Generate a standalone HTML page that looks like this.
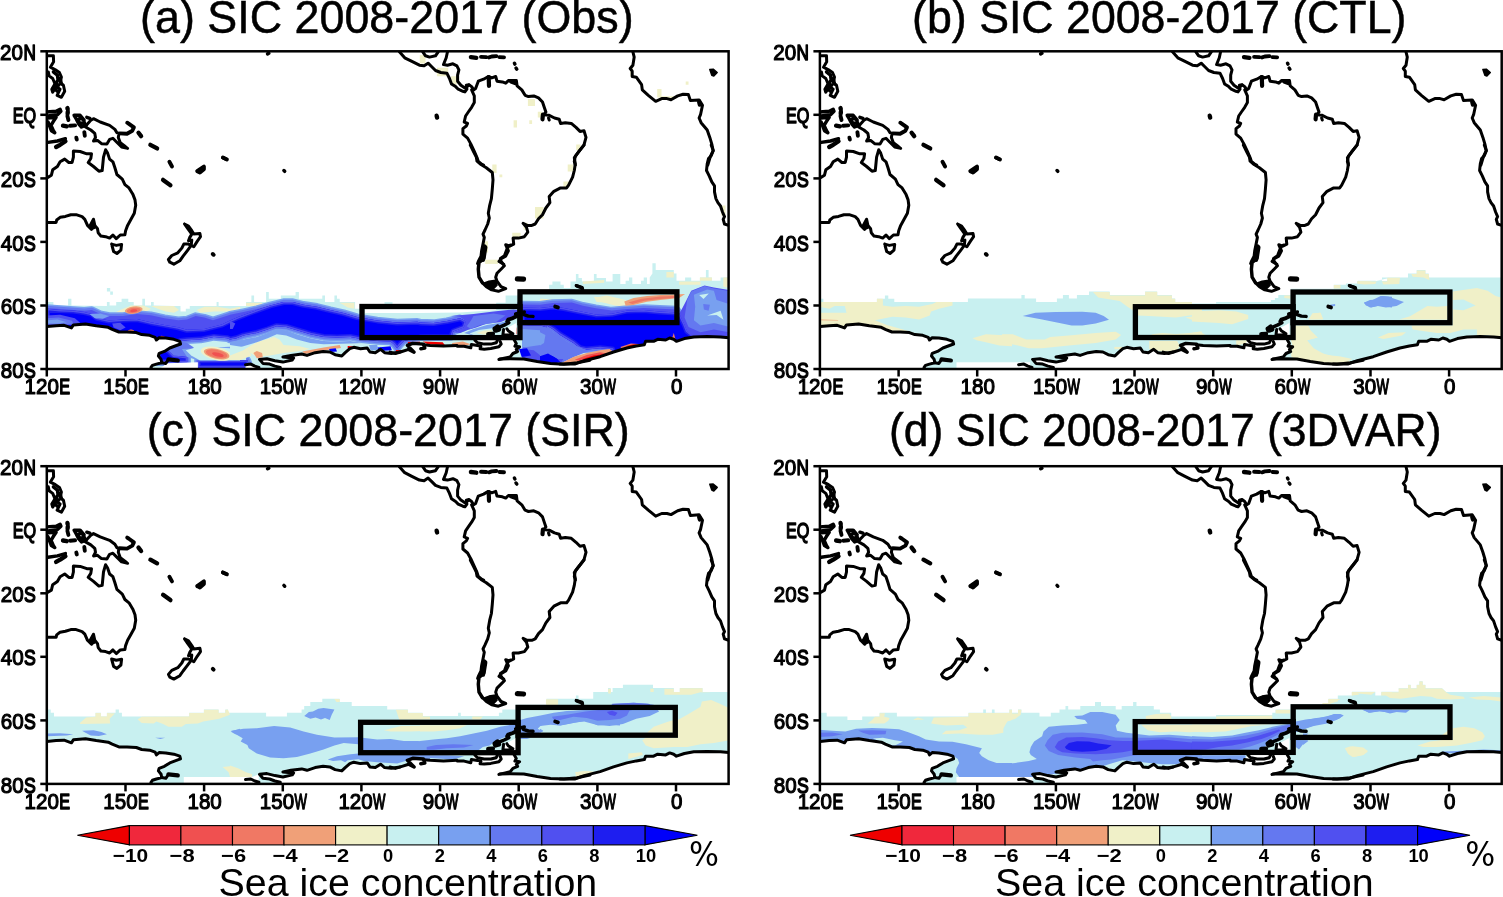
<!DOCTYPE html><html><head><meta charset="utf-8"><title>SIC 2008-2017</title><style>html,body{margin:0;padding:0;background:#fff}svg{display:block}.tk{font-size:22.9px;stroke:#000;stroke-width:1.15px;stroke-linejoin:round}.cb{font-size:18.8px;font-weight:bold}</style></head><body><svg width="1503" height="897" viewBox="0 0 1503 897" font-family="'Liberation Sans', sans-serif">
<defs>
<clipPath id="clip"><rect x="46.8" y="51.3" width="681.8" height="317.7"/></clipPath>
<g id="coast" fill="none" stroke="#000" stroke-width="3" stroke-linejoin="round" stroke-linecap="round">
<polyline points="267.6,53.9 268.8,53.3" stroke-width="3.45"/>
<polyline points="283.9,170.5 284.7,171.3" stroke-width="3.45"/>
<polyline points="222.7,157.7 226.5,159.3" stroke-width="3.45"/>
<polyline points="48.3,55.8 53.4,55.8 53.6,61.8 50.4,67.2 55.4,69.8 59.4,72.5 61.4,77.2 60.1,82.6 63.4,85.2 64.7,91.3 61.4,97.3 57.1,95.3 60.1,89.2 56.3,86.6 52.7,92.2 51.8,89.2 55.0,83.9 52.7,78.5 49.1,75.9 48.3,71.9" stroke-width="3.00"/>
<polyline points="53.4,71.9 57.4,75.2 58.1,79.9 55.4,83.9 58.7,85.2" stroke-width="3.45"/>
<polyline points="60.1,78.5 61.4,83.9" stroke-width="3.45"/>
<polyline points="53.4,87.9 57.4,91.3" stroke-width="3.45"/>
<polyline points="46.7,112.0 56.1,111.3 60.1,109.3 60.9,111.3 57.4,114.7 48.0,116.0" stroke-width="3.45"/>
<polyline points="48.0,118.0 56.1,117.3 53.4,121.4 51.0,125.4 53.4,130.7 54.7,132.7 51.4,130.7 49.4,125.4 48.0,122.0" stroke-width="3.45"/>
<polyline points="67.4,108.0 67.7,109.3" stroke-width="4.35"/>
<polyline points="67.8,111.7 67.6,113.6" stroke-width="4.35"/>
<polyline points="67.4,116.0 68.4,120.0" stroke-width="3.90"/>
<polyline points="63.0,125.6 66.8,126.3" stroke-width="4.35"/>
<polyline points="70.1,125.8 75.1,125.4" stroke-width="3.90"/>
<polyline points="74.1,115.3 80.1,115.3 84.1,120.0 80.1,118.0 78.1,120.0 80.1,124.0 84.1,122.0 85.5,125.4 81.5,127.0 78.8,124.0 76.1,118.7 74.1,115.3" stroke-width="3.45"/>
<polyline points="86.8,117.3 89.8,118.3" stroke-width="3.45"/>
<polyline points="85.5,127.0 86.8,124.7 90.8,120.3 93.5,118.7 100.2,122.0 109.6,125.4 114.9,129.4 116.9,132.7 118.9,133.7 118.3,137.4 120.3,142.8 125.6,146.8 127.6,148.4 121.6,147.0 116.3,141.7 112.9,138.3 109.6,139.4 106.9,144.1 101.5,143.7 97.5,140.4 93.5,141.0 95.5,137.4 94.8,133.4 90.8,130.0 85.5,127.0" stroke-width="3.00"/>
<polyline points="119.6,133.4 127.0,133.7 132.3,130.7 133.9,127.4 128.6,123.6 127.2,122.7" stroke-width="3.90"/>
<polyline points="138.5,132.7 141.1,136.1" stroke-width="4.35"/>
<polyline points="150.4,144.8 157.1,148.4" stroke-width="4.35"/>
<polyline points="48.0,142.4 57.4,141.0 65.4,138.7" stroke-width="3.45"/>
<polyline points="56.1,147.0 60.1,144.8 65.4,141.2" stroke-width="4.35"/>
<polyline points="84.3,132.1 84.8,135.8" stroke-width="3.90"/>
<polyline points="76.3,137.7 76.8,139.5" stroke-width="3.90"/>
<polyline points="47.0,177.9 51.4,175.2 52.7,169.8 57.4,166.5 60.1,161.8 64.7,159.1 68.8,162.5 72.1,162.5 73.4,157.1 73.4,151.1 80.1,151.5 86.8,153.8 91.5,153.8 90.8,158.5 88.2,162.5 93.5,166.5 98.9,171.2 102.2,170.5 103.5,157.1 105.6,149.8 107.6,153.1 109.6,159.1 112.9,161.8 114.9,167.8 116.9,174.5 122.3,179.2 124.9,184.6 129.0,187.9 133.0,194.6 135.0,199.9 135.7,205.3 134.3,213.3 131.0,219.3 127.6,225.4 125.6,230.7 124.9,234.7 120.3,235.0 116.3,238.7 112.9,235.0 109.6,238.1 105.6,236.7 100.9,236.1 98.2,232.7 97.5,228.7 94.8,225.4 93.5,219.3 90.2,225.4 91.5,229.4 87.5,225.4 84.8,219.3 82.1,216.7 76.1,214.7 70.8,214.7 65.4,216.4 60.1,217.3 56.7,220.0 56.1,222.4 47.0,222.4"/>
<polygon points="93.5,219.3 90.2,225.4 91.5,229.6 94.8,228.0 94.2,224.0" fill="#000" stroke="#000" stroke-width="1.5"/>
<polyline points="111.6,244.1 116.3,245.4 121.6,244.4 120.9,250.1 116.9,253.5 113.6,251.5 111.6,244.1"/>
<polyline points="184.5,224.0 188.5,226.0 191.8,230.7 193.8,234.1 199.9,233.4 200.5,236.7 197.2,241.4 193.8,246.8 191.2,245.4 191.8,240.1 188.5,240.8 189.8,237.4 191.8,234.1 187.8,228.7 184.5,224.0"/>
<polyline points="191.2,245.4 187.2,250.8 183.1,256.1 179.8,260.8 173.8,264.2 169.8,262.2 168.4,259.5 171.8,255.5 177.8,252.8 181.8,248.1 183.8,244.1 188.5,244.1 191.2,245.4"/>
<polyline points="212.8,254.0 213.6,254.8" stroke-width="3.90"/>
<polyline points="163.1,179.9 170.4,185.2" stroke-width="4.35"/>
<polyline points="169.4,161.8 172.0,166.5" stroke-width="3.90"/>
<polyline points="197.2,171.2 203.9,166.5 203.9,169.2 199.9,172.5 197.2,171.2" stroke-width="3.90"/>
<polyline points="223.0,157.5 226.9,159.4" stroke-width="3.90"/>
<polyline points="399.4,51.8 404.7,57.8 411.4,61.2 419.4,65.2 424.1,65.8 428.1,63.2 431.5,66.5 435.5,70.5 440.8,72.5 446.9,73.2 449.5,78.5 451.5,83.9 455.6,86.6 458.2,89.2 462.9,91.3 464.9,91.9 466.9,89.2 466.3,85.2 468.9,84.6 471.6,86.6 473.6,89.9 475.6,88.6 478.3,81.2 483.6,79.2 488.3,76.5 491.7,77.9 495.7,76.5 497.0,81.2 502.4,81.9 505.7,83.2 508.4,80.6 516.4,80.6 517.1,85.9 521.8,89.9 525.1,95.3 528.5,96.6 533.8,95.9 538.5,97.9 542.5,102.0 544.5,108.0 545.9,112.0 543.8,114.7 549.2,115.3 554.5,118.0 559.2,119.3 560.6,123.4 565.3,122.7 571.3,123.4 576.0,127.4 580.0,131.4 584.0,130.7 586.0,137.4 584.0,144.8 580.0,150.1 575.3,156.1 574.3,161.5 575.3,165.1"/>
<polyline points="447.5,51.8 446.2,57.8 443.5,64.5 447.5,65.2 452.9,63.8 456.9,65.8 458.9,69.8 457.6,75.2 457.6,81.2 460.9,85.2 464.9,87.9 468.9,85.2"/>
<polyline points="422.8,51.8 425.5,55.8 429.5,57.1 435.5,55.8 438.2,51.8"/>
<polyline points="471.6,89.9 474.3,95.9 474.3,102.6 471.6,107.3 468.3,112.0 465.6,116.0 464.2,122.0 467.6,123.4 466.3,126.0 462.9,128.7 462.9,134.1 467.6,138.1 470.9,144.1 474.3,151.5 477.0,157.5 478.3,161.5 481.6,164.2 483.6,165.1"/>
<polyline points="488.7,77.2 489.0,85.9" stroke-width="4.2"/>
<polyline points="511.1,81.5 515.8,83.2" stroke-width="4.2"/>
<polyline points="542.9,114.7 542.5,119.3" stroke-width="4.2"/>
<polyline points="548.5,118.0 549.2,120.0"/>
<polyline points="470.9,57.1 476.3,57.8" stroke-width="4.35"/>
<polyline points="481.0,56.9 486.3,57.1" stroke-width="3.90"/>
<polyline points="489.0,57.4 491.7,56.5 496.4,56.1" stroke-width="3.90"/>
<polyline points="499.4,57.1 504.0,57.4" stroke-width="3.90"/>
<polyline points="514.4,63.2 514.9,64.1" stroke-width="3.45"/>
<polyline points="516.0,68.1 516.8,69.2" stroke-width="3.45"/>
<polyline points="436.6,115.7 437.1,117.6" stroke-width="4.35"/>
<polyline points="470.3,145.1 473.6,151.8 476.3,157.1 477.0,161.2 481.0,164.5 486.3,167.8 492.3,172.5 493.0,179.9 492.3,189.2 491.4,198.6 489.7,205.3 488.3,213.3 489.3,218.0 487.7,224.0 485.0,230.0 483.0,234.1 484.3,237.4 483.0,244.1 481.6,250.8 481.0,256.1 478.3,261.5 477.6,263.5"/>
<polyline points="485.3,247.4 483.6,258.1" stroke-width="4.2"/>
<polyline points="584.0,145.1 578.6,151.8 574.3,157.8 575.3,163.8 574.3,170.5 572.6,177.2 568.6,185.2 566.6,187.9 560.6,187.9 553.9,191.3 549.2,196.6 549.9,202.6 545.9,208.0 542.5,214.7 538.5,218.7 535.2,224.0 531.8,225.4 527.1,225.4 523.1,223.4 526.5,227.4 527.8,232.1 524.4,236.7 518.4,238.1 513.1,238.1 513.7,244.1 509.7,246.1 505.7,244.8 508.4,250.8 505.7,256.1 501.0,258.8 499.0,261.5 503.7,264.2"/>
<polyline points="484.3,246.4 483.0,259.8" stroke-width="4.2"/>
<polyline points="482.3,259.8 479.0,262.5 478.3,269.2 479.0,277.2 482.3,282.6" stroke-width="3.45"/>
<polyline points="482.3,282.6 486.3,286.6 491.7,289.9 498.4,291.3 505.7,288.6 501.0,286.6 497.0,281.2 495.7,277.2 497.0,273.2 501.0,269.2 504.4,265.8 501.0,261.2 500.4,258.5 504.4,255.8 506.4,250.5 508.4,246.4 510.4,245.1"/>
<polygon points="483.6,283.2 489.0,281.2 495.7,280.2 497.0,285.2 493.0,289.2 487.7,287.2" fill="#000" stroke="#000" stroke-width="1.5"/>
<polyline points="517.4,278.8 523.5,279.1" stroke-width="5.25"/>
<polyline points="576.6,285.9 582.0,287.9 582.4,289.5" stroke-width="3.45"/>
<polyline points="555.2,306.6 557.9,307.4" stroke-width="3.90"/>
<polyline points="390.0,352.1 395.4,353.5 402.0,351.5 408.7,349.4"/>
<polyline points="408.7,349.4 414.1,352.1 410.1,348.1 407.4,345.4 412.7,343.4 423.4,344.1 424.8,348.1 420.8,348.8" stroke-width="3.45"/>
<polyline points="423.4,344.8 430.1,345.4 443.5,346.1 456.9,345.4"/>
<polyline points="499.7,359.1 510.4,358.8 523.8,359.1 537.2,361.5 550.5,363.5 563.9,364.2 577.3,362.8 590.0,360.2"/>
<polyline points="632.9,51.8 634.2,57.1 632.9,65.2 630.2,68.5 632.2,71.2 632.2,76.5 636.3,77.2 641.6,84.6 642.3,89.9 648.3,95.3 655.7,101.3 661.7,98.6 667.0,98.6 671.0,99.7 677.7,95.9 683.1,94.3 688.4,94.6 690.4,100.6 699.1,99.9 702.5,105.3 700.5,114.7 699.1,118.0 701.1,122.7 707.2,130.0 709.8,137.4 711.8,144.1 713.2,150.8 710.5,156.1 707.8,165.1"/>
<polygon points="709.8,69.4 713.2,69.2 717.2,72.5 713.8,76.1 711.8,75.2" fill="#000" stroke="#000" stroke-width="1.5"/>
<polyline points="699.1,102.0 699.8,104.6" stroke-width="4.2"/>
<polyline points="711.2,145.1 713.2,150.5 711.2,155.8 708.5,158.5 707.2,163.8 706.5,170.5 709.2,175.9 711.8,181.9 714.5,185.9 714.5,191.9 715.9,198.6 717.9,202.6 720.5,206.0 722.5,212.0 724.5,216.7 723.2,219.3 724.5,224.0 728.6,225.4"/>
<polyline points="47.0,326.6 56.1,325.7 64.1,325.3 71.4,327.9 73.4,324.9 85.5,323.9 96.2,325.7 108.2,327.3 112.2,329.3 118.9,332.0 127.0,332.0 136.3,332.6 141.7,334.6 149.7,335.3 155.1,337.3 156.4,340.0 159.1,337.7 165.8,338.0 173.8,339.3 179.8,341.3 180.5,344.0 175.1,346.0 169.8,348.0 164.4,351.4 159.1,353.4 158.4,356.0 161.1,359.4 161.7,362.7 156.4,364.1 152.4,365.4 151.0,367.4"/>
<polyline points="168.4,359.4 177.8,360.5" stroke-width="4.2"/>
<polyline points="168.4,359.6 165.8,363.4 161.7,362.7"/>
<polyline points="245.5,364.7 250.8,364.1 254.8,366.1 258.9,367.4"/>
<polyline points="280.3,367.4 274.9,366.1 269.6,364.1 262.9,363.4 259.5,359.4 266.9,358.7 274.9,360.7 282.9,362.1 292.3,360.0 293.6,358.0 282.9,357.0 291.0,355.4 301.7,354.0 307.0,355.4 315.1,352.7 323.1,351.4 329.8,352.0 335.1,354.7 341.8,356.0 345.2,352.7 349.8,348.7 353.8,347.3 360.5,348.7 367.2,348.0 369.9,352.0 375.3,352.7 380.6,349.3 384.6,352.7 391.3,353.4 400.0,352.0"/>
<polyline points="560.0,364.1 574.7,364.1 584.1,360.7 600.1,356.7 613.5,352.0 626.9,348.0 636.3,346.0 644.3,344.7 645.6,341.3 653.6,341.3 657.7,339.3 665.7,340.0 669.7,338.0 673.7,339.3 676.4,341.3 684.4,338.6 693.8,336.9 707.2,336.6 720.5,336.9 728.8,337.7"/>
<polyline points="576.1,285.5 582.1,287.4 582.7,289.1"/>
<polyline points="457.4,346.2 464.1,346.2 470.8,347.8 471.4,344.5 477.5,345.5 480.8,346.2"/>
<polyline points="514.3,340.1 516.3,343.5 514.9,346.2 519.6,346.8 516.3,349.5 517.6,351.5 512.9,353.5 510.2,356.9 504.2,358.2 498.9,359.5" stroke-width="3.00"/>
<polyline points="474.8,340.1 477.5,342.8 484.2,344.1 490.8,344.1 496.2,342.8 497.5,340.1" stroke-width="3.00"/>
<polyline points="480.8,346.2 480.1,348.8 484.2,349.2 490.8,348.5 498.9,346.8 501.2,344.1 500.2,341.5" stroke-width="3.00"/>
<polyline points="515.6,314.0 524.3,312.0" stroke-width="3.45"/>
<polyline points="523.3,314.4 528.3,316.1 533.0,316.4" stroke-width="3.45"/>
<polyline points="517.6,315.7 512.9,318.1 508.2,319.7 507.2,321.4" stroke-width="3.90"/>
<polyline points="508.9,322.7 504.2,325.1 500.2,326.8" stroke-width="3.45"/>
<polyline points="494.9,328.8 497.5,326.8 498.9,329.4 495.5,330.4 494.9,328.8" stroke-width="4.80"/>
<polyline points="488.2,334.1 492.9,333.8" stroke-width="4.35"/>
<polyline points="503.6,329.4 502.9,334.8 508.2,335.1 512.9,333.8 508.2,330.8 506.9,328.8"/>
</g>
<g id="mask"><polygon points="43.8,326.6 47.0,326.6 56.1,325.7 64.1,325.3 71.4,327.9 73.4,324.9 85.5,323.9 96.2,325.7 108.2,327.3 112.2,329.3 118.9,332.0 127.0,332.0 136.3,332.6 141.7,334.6 149.7,335.3 155.1,337.3 156.4,340.0 159.1,337.7 165.8,338.0 173.8,339.3 179.8,341.3 180.5,344.0 175.1,346.0 169.8,348.0 164.4,351.4 159.1,353.4 158.4,356.0 161.1,359.4 161.7,362.7 156.4,364.1 152.4,365.4 151.0,367.4 151.0,372.0 43.8,372.0" fill="#fff"/>
<polygon points="280.3,367.4 274.9,366.1 269.6,364.1 262.9,363.4 259.5,359.4 266.9,358.7 274.9,360.7 282.9,362.1 292.3,360.0 293.6,358.0 282.9,357.0 291.0,355.4 301.7,354.0 307.0,355.4 315.1,352.7 323.1,351.4 329.8,352.0 335.1,354.7 341.8,356.0 345.2,352.7 349.8,348.7 353.8,347.3 360.5,348.7 367.2,348.0 369.9,352.0 375.3,352.7 380.6,349.3 384.6,352.7 391.3,353.4 400.0,352.0 390.0,352.1 395.4,353.5 402.0,351.5 408.7,349.4 414.1,352.1 410.1,348.1 407.4,345.4 412.7,343.4 423.4,344.1 424.8,348.1 420.8,348.8 423.4,344.8 430.1,345.4 443.5,346.1 456.9,345.4 457.4,346.2 464.1,346.2 470.8,347.8 471.4,344.5 474.8,340.1 497.5,340.1 503.6,335.5 504.2,329.4 516.3,323.1 516.3,335.5 514.3,340.1 516.3,343.5 514.9,346.2 519.6,346.8 516.3,349.5 517.6,351.5 512.9,353.5 510.2,356.9 504.2,358.2 498.9,359.5 499.7,359.1 510.4,358.8 523.8,359.1 537.2,361.5 550.5,363.5 563.9,364.2 577.3,362.8 590.0,360.2 560.0,364.1 574.7,364.1 584.1,360.7 600.1,356.7 613.5,352.0 626.9,348.0 636.3,346.0 644.3,344.7 645.6,341.3 653.6,341.3 657.7,339.3 665.7,340.0 669.7,338.0 673.7,339.3 676.4,341.3 684.4,338.6 693.8,336.9 707.2,336.6 720.5,336.9 728.8,337.7 731.6,337.7 731.6,372.0 280.3,372.0" fill="#fff"/>
<polygon points="245.5,364.7 250.8,364.1 254.8,366.1 258.9,367.4 258.9,372.0 245.5,372.0" fill="#fff"/></g>
</defs>
<rect width="1503" height="897" fill="#fff"/>
<g transform="translate(0,0)"><g clip-path="url(#clip)">
<polygon points="47.0,302.1 53.4,302.1 53.4,305.4 68.1,305.4 68.1,298.8 71.4,298.8 71.4,305.4 106.9,306.1 106.9,302.1 109.6,302.1 109.6,305.4 116.2,305.4 116.2,302.1 121.6,302.1 121.6,298.8 128.3,298.8 128.3,302.1 133.7,302.1 133.7,305.4 142.3,305.4 142.3,298.8 145.0,298.8 145.0,305.4 151.0,305.4 151.0,302.1 153.7,302.1 153.7,305.4 173.8,306.1 180.5,306.1 180.5,311.5 185.8,311.5 185.8,308.8 189.8,308.8 189.8,306.1 216.6,306.1 216.6,302.1 218.6,302.1 218.6,306.1 230.0,306.1 230.0,306.1 246.1,306.1 246.1,302.1 251.4,302.1 251.4,295.4 254.1,295.4 254.1,302.1 266.1,302.1 266.1,292.1 268.8,292.1 268.8,298.8 280.8,298.8 280.8,295.4 295.6,295.4 295.6,292.1 298.9,292.1 298.9,298.8 322.3,298.8 322.3,295.4 325.0,295.4 325.0,302.1 334.4,302.1 334.4,295.4 337.0,295.4 337.0,298.8 339.7,298.8 339.7,302.1 355.1,302.1 355.1,308.8 365.1,308.8 365.1,313.1 420.0,313.1 420.0,313.1 460.1,312.5 496.2,310.1 496.2,302.8 505.6,302.8 505.6,295.4 517.7,295.4 517.7,292.1 549.1,292.1 549.1,284.7 552.4,284.7 552.4,281.4 560.5,281.4 560.5,284.7 563.8,284.7 563.8,288.1 570.5,288.1 570.5,281.4 575.9,281.4 575.9,274.0 578.5,274.0 578.5,278.0 581.9,278.0 581.9,281.4 593.9,281.4 593.9,274.0 596.6,274.0 596.6,278.0 606.0,278.0 606.0,281.4 612.6,281.4 612.6,274.0 620.0,274.0 620.3,273.4 620.3,284.1 625.6,284.1 625.6,280.7 629.0,280.7 629.0,277.4 632.3,277.4 632.3,284.1 641.0,284.1 641.0,280.7 643.7,280.7 643.7,277.4 647.0,277.4 647.0,284.1 649.7,284.1 649.7,277.4 652.4,273.4 652.4,263.3 655.7,263.3 655.7,270.0 673.8,270.0 673.8,273.4 676.5,273.4 676.5,280.7 685.1,280.7 685.1,277.4 691.2,277.4 691.2,280.7 699.9,280.7 699.9,277.4 705.9,277.4 705.9,270.0 708.6,270.0 708.6,277.4 711.9,277.4 711.9,280.7 720.6,280.7 720.6,277.4 729.3,277.4 729.3,369.7 47.0,371.7" fill="#C8F0F0"/>
<polygon points="106.9,288.1 110.2,288.1 110.2,291.4 112.9,291.4 112.9,294.8 110.2,294.8 110.2,291.4 106.9,291.4" fill="#C8F0F0"/>
<polygon points="384.5,302.1 392.5,302.1 392.5,305.1 384.5,305.1" fill="#C8F0F0"/>
<polygon points="112.2,314.1 120.3,310.1 131.0,305.4 143.0,305.4 151.0,308.8 144.3,312.8 133.7,314.1 120.3,316.1" fill="#F0F0C8"/>
<polygon points="151.0,306.1 173.8,306.1 179.1,310.1 173.8,312.8 165.8,311.5 157.7,308.8" fill="#F0F0C8"/>
<polygon points="196.5,310.1 204.6,306.8 216.6,306.8 230.0,308.8 240.0,306.8 240.0,310.1 227.3,311.5 213.9,311.5 200.5,312.8" fill="#F0F0C8"/>
<polygon points="247.4,347.6 256.8,342.2 274.1,336.9 279.5,339.6 283.5,344.9 299.6,346.2 310.3,348.9 296.9,351.6 283.5,352.9 270.1,355.6 256.8,357.0 250.1,352.9" fill="#F0F0C8"/>
<polygon points="230.0,355.6 240.7,357.0 238.0,359.9 230.0,359.9" fill="#F0F0C8"/>
<polygon points="246.1,302.8 262.1,302.8 262.1,305.9 246.1,305.9" fill="#F0F0C8"/>
<polygon points="339.7,302.8 354.4,302.8 354.4,308.8 347.7,307.5" fill="#F0F0C8"/>
<polygon points="541.7,298.8 553.8,299.4 555.1,302.8 544.4,302.8" fill="#F0F0C8"/>
<polygon points="593.9,296.8 620.0,298.8 620.0,303.4 596.6,302.1" fill="#F0F0C8"/>
<polygon points="666.4,272.0 673.8,272.0 673.8,277.4 666.4,277.4" fill="#F0F0C8"/>
<polygon points="679.1,281.4 700.5,281.4 700.5,284.8 679.1,284.8" fill="#F0F0C8"/>
<polygon points="699.9,277.4 711.9,277.4 711.9,280.7 699.9,280.7" fill="#F0F0C8"/>
<polygon points="723.3,277.4 729.3,277.4 729.3,288.1 723.3,286.8" fill="#F0F0C8"/>
<polygon points="540.0,298.8 553.4,299.5 553.4,301.7 540.0,301.5" fill="#F0F0C8"/>
<polygon points="596.2,297.5 606.9,295.4 620.3,298.8 625.6,300.1 628.3,306.8 614.9,305.5 604.2,302.8 596.2,300.1" fill="#F0F0C8"/>
<polygon points="582.8,281.4 604.2,280.1 604.2,282.7 582.8,284.1" fill="#F0F0C8"/>
<polygon points="47.0,308.1 60.1,309.1 73.4,309.9 84.2,310.8 91.9,310.1 100.2,314.1 109.2,315.9 123.1,315.9 136.9,314.1 150.8,315.2 164.6,318.2 178.3,320.3 187.0,319.4 195.7,316.1 204.3,317.6 213.0,320.3 221.7,317.6 230.2,314.8 230.0,314.8 243.4,312.1 256.8,309.1 270.1,305.4 283.5,302.1 292.9,302.1 303.6,304.8 317.0,306.8 330.3,310.1 343.7,313.1 357.1,317.1 377.2,320.4 397.2,322.4 417.3,321.8 420.0,322.4 433.4,323.1 446.8,321.1 460.1,318.2 466.1,321.5 464.1,327.5 453.4,331.5 451.4,336.9 420.0,337.6 403.9,340.9 399.9,344.9 397.2,348.3 393.9,344.2 390.5,341.6 377.2,340.9 363.8,339.6 350.4,336.9 337.0,337.6 323.6,336.9 310.3,334.2 296.9,330.2 286.2,326.9 276.8,326.2 267.5,329.5 256.8,332.9 243.4,335.6 236.7,338.2 230.0,339.6 227.3,338.2 213.9,336.9 207.2,338.2 200.5,339.6 187.2,340.2 180.5,340.9 180.5,347.6 120.3,342.2 47.0,331.5" fill="#78A0F0" stroke="#78A0F0" stroke-width="7.5" stroke-linejoin="round"/>
<polygon points="520.8,304.5 539.9,304.7 552.7,302.9 571.9,302.6 583.0,305.8 595.8,308.2 611.8,310.6 627.7,309.0 643.7,308.1 659.7,308.7 676.5,309.5 679.5,313.5 684.5,324.2 687.2,330.9 693.9,336.2 693.9,345.6 647.0,352.3 612.2,356.3 612.2,349.6 600.2,348.3 586.8,349.6 580.1,348.3 573.4,342.9 560.1,334.9 553.4,329.6 546.7,325.6 547.1,327.5 540.4,325.5 522.3,325.5" fill="#78A0F0" stroke="#78A0F0" stroke-width="7.5" stroke-linejoin="round"/>
<polygon points="197.9,360.3 240.0,360.3 247.4,360.3 250.1,367.7 230.0,367.7 197.9,367.7" fill="#78A0F0" stroke="#78A0F0" stroke-width="7.5" stroke-linejoin="round"/>
<polygon points="157.7,347.6 168.4,350.3 173.8,355.6 187.2,357.0 187.2,362.3 157.7,362.3" fill="#78A0F0" stroke="#78A0F0" stroke-width="7.5" stroke-linejoin="round"/>
<polygon points="47.0,308.1 60.1,309.1 73.4,309.9 84.2,310.8 91.9,310.1 100.2,314.1 109.2,315.9 123.1,315.9 136.9,314.1 150.8,315.2 164.6,318.2 178.3,320.3 187.0,319.4 195.7,316.1 204.3,317.6 213.0,320.3 221.7,317.6 230.2,314.8 230.0,314.8 243.4,312.1 256.8,309.1 270.1,305.4 283.5,302.1 292.9,302.1 303.6,304.8 317.0,306.8 330.3,310.1 343.7,313.1 357.1,317.1 377.2,320.4 397.2,322.4 417.3,321.8 420.0,322.4 433.4,323.1 446.8,321.1 460.1,318.2 466.1,321.5 464.1,327.5 453.4,331.5 451.4,336.9 420.0,337.6 403.9,340.9 399.9,344.9 397.2,348.3 393.9,344.2 390.5,341.6 377.2,340.9 363.8,339.6 350.4,336.9 337.0,337.6 323.6,336.9 310.3,334.2 296.9,330.2 286.2,326.9 276.8,326.2 267.5,329.5 256.8,332.9 243.4,335.6 236.7,338.2 230.0,339.6 227.3,338.2 213.9,336.9 207.2,338.2 200.5,339.6 187.2,340.2 180.5,340.9 180.5,347.6 120.3,342.2 47.0,331.5" fill="#6478F0" stroke="#6478F0" stroke-width="4.5" stroke-linejoin="round"/>
<polygon points="520.8,304.5 539.9,304.7 552.7,302.9 571.9,302.6 583.0,305.8 595.8,308.2 611.8,310.6 627.7,309.0 643.7,308.1 659.7,308.7 676.5,309.5 679.5,313.5 684.5,324.2 687.2,330.9 693.9,336.2 693.9,345.6 647.0,352.3 612.2,356.3 612.2,349.6 600.2,348.3 586.8,349.6 580.1,348.3 573.4,342.9 560.1,334.9 553.4,329.6 546.7,325.6 547.1,327.5 540.4,325.5 522.3,325.5" fill="#6478F0" stroke="#6478F0" stroke-width="4.5" stroke-linejoin="round"/>
<polygon points="197.9,360.3 240.0,360.3 247.4,360.3 250.1,367.7 230.0,367.7 197.9,367.7" fill="#6478F0" stroke="#6478F0" stroke-width="4.5" stroke-linejoin="round"/>
<polygon points="157.7,347.6 168.4,350.3 173.8,355.6 187.2,357.0 187.2,362.3 157.7,362.3" fill="#6478F0" stroke="#6478F0" stroke-width="4.5" stroke-linejoin="round"/>
<polygon points="47.0,308.1 60.1,309.1 73.4,309.9 84.2,310.8 91.9,310.1 100.2,314.1 109.2,315.9 123.1,315.9 136.9,314.1 150.8,315.2 164.6,318.2 178.3,320.3 187.0,319.4 195.7,316.1 204.3,317.6 213.0,320.3 221.7,317.6 230.2,314.8 230.0,314.8 243.4,312.1 256.8,309.1 270.1,305.4 283.5,302.1 292.9,302.1 303.6,304.8 317.0,306.8 330.3,310.1 343.7,313.1 357.1,317.1 377.2,320.4 397.2,322.4 417.3,321.8 420.0,322.4 433.4,323.1 446.8,321.1 460.1,318.2 466.1,321.5 464.1,327.5 453.4,331.5 451.4,336.9 420.0,337.6 403.9,340.9 399.9,344.9 397.2,348.3 393.9,344.2 390.5,341.6 377.2,340.9 363.8,339.6 350.4,336.9 337.0,337.6 323.6,336.9 310.3,334.2 296.9,330.2 286.2,326.9 276.8,326.2 267.5,329.5 256.8,332.9 243.4,335.6 236.7,338.2 230.0,339.6 227.3,338.2 213.9,336.9 207.2,338.2 200.5,339.6 187.2,340.2 180.5,340.9 180.5,347.6 120.3,342.2 47.0,331.5" fill="#5050F0"/>
<polygon points="520.8,304.5 539.9,304.7 552.7,302.9 571.9,302.6 583.0,305.8 595.8,308.2 611.8,310.6 627.7,309.0 643.7,308.1 659.7,308.7 676.5,309.5 679.5,313.5 684.5,324.2 687.2,330.9 693.9,336.2 693.9,345.6 647.0,352.3 612.2,356.3 612.2,349.6 600.2,348.3 586.8,349.6 580.1,348.3 573.4,342.9 560.1,334.9 553.4,329.6 546.7,325.6 547.1,327.5 540.4,325.5 522.3,325.5" fill="#5050F0"/>
<polygon points="197.9,360.3 240.0,360.3 247.4,360.3 250.1,367.7 230.0,367.7 197.9,367.7" fill="#5050F0"/>
<polygon points="157.7,347.6 168.4,350.3 173.8,355.6 187.2,357.0 187.2,362.3 157.7,362.3" fill="#5050F0"/>
<clipPath id="hc0"><polygon points="47.0,308.8 60.1,309.9 73.4,310.5 84.2,312.1 91.9,313.9 97.1,317.9 109.2,320.6 123.1,319.6 136.9,319.0 150.8,322.2 164.6,324.9 178.3,327.3 187.0,329.8 204.3,328.9 221.7,324.6 230.0,320.6 238.0,317.1 247.4,313.5 256.8,310.1 270.1,305.4 283.5,302.1 292.9,302.1 303.6,304.8 317.0,306.8 330.3,310.1 343.7,313.1 357.1,317.1 377.2,320.4 397.2,322.4 417.3,321.8 420.0,322.4 433.4,323.1 446.8,321.1 460.1,318.2 466.1,321.5 464.1,327.5 453.4,331.5 451.4,336.9 420.0,337.6 403.9,340.9 399.9,344.9 397.2,348.3 393.9,344.2 390.5,341.6 377.2,340.9 363.8,339.6 350.4,336.9 337.0,337.6 323.6,336.9 310.3,334.2 296.9,330.2 286.2,326.9 276.8,326.2 267.5,329.5 256.8,332.9 243.4,335.6 236.7,338.2 230.0,339.6 227.3,338.2 213.9,336.9 207.2,338.2 200.5,339.6 187.2,340.2 180.5,340.9 180.5,347.6 120.3,342.2 47.0,331.5"/></clipPath>
<g clip-path="url(#hc0)"><polygon points="47.0,308.8 60.1,309.9 73.4,310.5 84.2,312.1 91.9,313.9 97.1,317.9 109.2,320.6 123.1,319.6 136.9,319.0 150.8,322.2 164.6,324.9 178.3,327.3 187.0,329.8 204.3,328.9 221.7,324.6 230.0,320.6 238.0,317.1 247.4,313.5 256.8,310.1 270.1,305.4 283.5,302.1 292.9,302.1 303.6,304.8 317.0,306.8 330.3,310.1 343.7,313.1 357.1,317.1 377.2,320.4 397.2,322.4 417.3,321.8 420.0,322.4 433.4,323.1 446.8,321.1 460.1,318.2 466.1,321.5 464.1,327.5 453.4,331.5 451.4,336.9 420.0,337.6 403.9,340.9 399.9,344.9 397.2,348.3 393.9,344.2 390.5,341.6 377.2,340.9 363.8,339.6 350.4,336.9 337.0,337.6 323.6,336.9 310.3,334.2 296.9,330.2 286.2,326.9 276.8,326.2 267.5,329.5 256.8,332.9 243.4,335.6 236.7,338.2 230.0,339.6 227.3,338.2 213.9,336.9 207.2,338.2 200.5,339.6 187.2,340.2 180.5,340.9 180.5,347.6 120.3,342.2 47.0,331.5" fill="#0000FA"/>
<polygon points="47.0,308.8 60.1,309.9 73.4,310.5 84.2,312.1 91.9,313.9 97.1,317.9 109.2,320.6 123.1,319.6 136.9,319.0 150.8,322.2 164.6,324.9 178.3,327.3 187.0,329.8 204.3,328.9 221.7,324.6 230.0,320.6 238.0,317.1 247.4,313.5 256.8,310.1 270.1,305.4 283.5,302.1 292.9,302.1 303.6,304.8 317.0,306.8 330.3,310.1 343.7,313.1 357.1,317.1 377.2,320.4 397.2,322.4 417.3,321.8 420.0,322.4 433.4,323.1 446.8,321.1 460.1,318.2 466.1,321.5 464.1,327.5 453.4,331.5 451.4,336.9 420.0,337.6 403.9,340.9 399.9,344.9 397.2,348.3 393.9,344.2 390.5,341.6 377.2,340.9 363.8,339.6 350.4,336.9 337.0,337.6 323.6,336.9 310.3,334.2 296.9,330.2 286.2,326.9 276.8,326.2 267.5,329.5 256.8,332.9 243.4,335.6 236.7,338.2 230.0,339.6 227.3,338.2 213.9,336.9 207.2,338.2 200.5,339.6 187.2,340.2 180.5,340.9 180.5,347.6 120.3,342.2 47.0,331.5" fill="none" stroke="#1E1EF0" stroke-width="6" stroke-linejoin="round"/>
<polygon points="47.0,308.8 60.1,309.9 73.4,310.5 84.2,312.1 91.9,313.9 97.1,317.9 109.2,320.6 123.1,319.6 136.9,319.0 150.8,322.2 164.6,324.9 178.3,327.3 187.0,329.8 204.3,328.9 221.7,324.6 230.0,320.6 238.0,317.1 247.4,313.5 256.8,310.1 270.1,305.4 283.5,302.1 292.9,302.1 303.6,304.8 317.0,306.8 330.3,310.1 343.7,313.1 357.1,317.1 377.2,320.4 397.2,322.4 417.3,321.8 420.0,322.4 433.4,323.1 446.8,321.1 460.1,318.2 466.1,321.5 464.1,327.5 453.4,331.5 451.4,336.9 420.0,337.6 403.9,340.9 399.9,344.9 397.2,348.3 393.9,344.2 390.5,341.6 377.2,340.9 363.8,339.6 350.4,336.9 337.0,337.6 323.6,336.9 310.3,334.2 296.9,330.2 286.2,326.9 276.8,326.2 267.5,329.5 256.8,332.9 243.4,335.6 236.7,338.2 230.0,339.6 227.3,338.2 213.9,336.9 207.2,338.2 200.5,339.6 187.2,340.2 180.5,340.9 180.5,347.6 120.3,342.2 47.0,331.5" fill="none" stroke="#5050F0" stroke-width="3" stroke-linejoin="round"/></g>
<clipPath id="hc1"><polygon points="520.8,307.4 539.9,308.1 552.7,306.5 563.9,308.1 579.8,311.2 595.8,314.4 611.8,313.8 627.7,310.4 643.7,310.1 659.7,311.4 676.5,312.4 679.5,313.5 684.5,324.2 687.2,330.9 693.9,336.2 693.9,345.6 647.0,352.3 612.2,356.3 612.2,349.6 600.2,348.3 586.8,349.6 580.1,348.3 573.4,342.9 560.1,334.9 553.4,329.6 546.7,325.6 547.1,327.5 540.4,325.5 522.3,325.5"/></clipPath>
<g clip-path="url(#hc1)"><polygon points="520.8,307.4 539.9,308.1 552.7,306.5 563.9,308.1 579.8,311.2 595.8,314.4 611.8,313.8 627.7,310.4 643.7,310.1 659.7,311.4 676.5,312.4 679.5,313.5 684.5,324.2 687.2,330.9 693.9,336.2 693.9,345.6 647.0,352.3 612.2,356.3 612.2,349.6 600.2,348.3 586.8,349.6 580.1,348.3 573.4,342.9 560.1,334.9 553.4,329.6 546.7,325.6 547.1,327.5 540.4,325.5 522.3,325.5" fill="#0000FA"/>
<polygon points="520.8,307.4 539.9,308.1 552.7,306.5 563.9,308.1 579.8,311.2 595.8,314.4 611.8,313.8 627.7,310.4 643.7,310.1 659.7,311.4 676.5,312.4 679.5,313.5 684.5,324.2 687.2,330.9 693.9,336.2 693.9,345.6 647.0,352.3 612.2,356.3 612.2,349.6 600.2,348.3 586.8,349.6 580.1,348.3 573.4,342.9 560.1,334.9 553.4,329.6 546.7,325.6 547.1,327.5 540.4,325.5 522.3,325.5" fill="none" stroke="#1E1EF0" stroke-width="6" stroke-linejoin="round"/>
<polygon points="520.8,307.4 539.9,308.1 552.7,306.5 563.9,308.1 579.8,311.2 595.8,314.4 611.8,313.8 627.7,310.4 643.7,310.1 659.7,311.4 676.5,312.4 679.5,313.5 684.5,324.2 687.2,330.9 693.9,336.2 693.9,345.6 647.0,352.3 612.2,356.3 612.2,349.6 600.2,348.3 586.8,349.6 580.1,348.3 573.4,342.9 560.1,334.9 553.4,329.6 546.7,325.6 547.1,327.5 540.4,325.5 522.3,325.5" fill="none" stroke="#5050F0" stroke-width="3" stroke-linejoin="round"/></g>
<clipPath id="hc2"><polygon points="197.9,360.3 240.0,360.3 247.4,360.3 250.1,367.7 230.0,367.7 197.9,367.7"/></clipPath>
<g clip-path="url(#hc2)"><polygon points="197.9,360.3 240.0,360.3 247.4,360.3 250.1,367.7 230.0,367.7 197.9,367.7" fill="#0000FA"/>
<polygon points="197.9,360.3 240.0,360.3 247.4,360.3 250.1,367.7 230.0,367.7 197.9,367.7" fill="none" stroke="#1E1EF0" stroke-width="6" stroke-linejoin="round"/>
<polygon points="197.9,360.3 240.0,360.3 247.4,360.3 250.1,367.7 230.0,367.7 197.9,367.7" fill="none" stroke="#5050F0" stroke-width="3" stroke-linejoin="round"/></g>
<clipPath id="hc3"><polygon points="157.7,347.6 168.4,350.3 173.8,355.6 187.2,357.0 187.2,362.3 157.7,362.3"/></clipPath>
<g clip-path="url(#hc3)"><polygon points="157.7,347.6 168.4,350.3 173.8,355.6 187.2,357.0 187.2,362.3 157.7,362.3" fill="#0000FA"/>
<polygon points="157.7,347.6 168.4,350.3 173.8,355.6 187.2,357.0 187.2,362.3 157.7,362.3" fill="none" stroke="#1E1EF0" stroke-width="6" stroke-linejoin="round"/>
<polygon points="157.7,347.6 168.4,350.3 173.8,355.6 187.2,357.0 187.2,362.3 157.7,362.3" fill="none" stroke="#5050F0" stroke-width="3" stroke-linejoin="round"/></g>
<polygon points="47.0,315.5 60.1,314.8 74.8,318.2 80.1,322.8 73.4,324.9 47.0,324.9" fill="#5050F0"/>
<polygon points="47.0,318.2 58.7,317.5 72.1,320.8 73.4,324.2 47.0,324.2" fill="#6478F0"/>
<polygon points="48.0,320.2 57.4,319.5 66.8,322.2 57.4,323.5 48.0,323.5" fill="#78A0F0"/>
<polygon points="112.2,323.5 120.3,322.8 125.6,327.5 120.3,330.2 113.6,327.5" fill="#5050F0"/>
<polygon points="89.5,314.1 100.2,313.5 109.6,316.1 102.9,318.8 94.8,318.2" fill="#78A0F0"/>
<ellipse cx="133.7" cy="310.1" rx="9" ry="3.6" fill="#F0A078" transform="rotate(-8 133.7 310.1)"/>
<ellipse cx="133.7" cy="310.4" rx="7" ry="2.6" fill="#F07864" transform="rotate(-8 133.7 310.4)"/>
<ellipse cx="133.7" cy="310.7" rx="3.5" ry="1.4" fill="#F05050" transform="rotate(-8 133.7 310.7)"/>
<polygon points="173.8,342.2 187.2,342.9 193.8,347.6 187.2,355.6 173.8,355.6 168.4,350.3" fill="#6478F0"/>
<polygon points="181.8,348.9 240.0,346.2 240.0,361.0 200.5,361.0 187.2,357.0" fill="#78A0F0"/>
<polygon points="185.8,350.3 200.5,346.2 240.0,348.9 240.0,359.9 199.2,359.9 191.2,355.6" fill="#C8F0F0"/>
<ellipse cx="216.6" cy="353.6" rx="16" ry="6.5" fill="#F0F0C8" transform="rotate(12 216.6 353.6)"/>
<ellipse cx="216.6" cy="353.8" rx="13" ry="5" fill="#F0A078" transform="rotate(12 216.6 353.8)"/>
<ellipse cx="216.6" cy="353.9" rx="11" ry="4" fill="#F07864" transform="rotate(12 216.6 353.9)"/>
<ellipse cx="217.9" cy="354.6" rx="6" ry="2" fill="#F05050" transform="rotate(14 217.9 354.6)"/>
<ellipse cx="131.0" cy="330.9" rx="3" ry="1.5" fill="#F07864" transform="rotate(0 131.0 330.9)"/>
<ellipse cx="163.1" cy="337.6" rx="3" ry="1.5" fill="#F05050" transform="rotate(20 163.1 337.6)"/>
<polygon points="230.0,342.2 243.4,339.6 256.8,336.9 267.5,332.9 276.8,329.5 286.2,330.2 296.9,334.2 310.3,338.2 323.6,340.9 337.0,341.6 350.4,340.9 363.8,342.9 350.4,343.6 323.6,344.2 310.3,342.9 296.9,339.6 286.2,335.6 276.8,334.2 267.5,338.2 256.8,342.2 243.4,346.2 230.0,350.3" fill="#78A0F0"/>
<polygon points="230.0,344.9 246.1,347.6 246.1,359.9 230.0,359.9" fill="#C8F0F0"/>
<polygon points="230.0,355.6 243.4,350.3 247.4,347.6 251.4,355.6 240.7,359.9 230.0,359.9" fill="#F0F0C8"/>
<polygon points="253.4,352.9 256.8,350.9 262.1,352.9 262.8,357.2 256.8,358.3" fill="#F0A078"/>
<polygon points="302.2,351.6 323.6,347.6 339.7,344.9 341.0,347.9 323.6,350.5 304.9,354.0" fill="#F0A078"/>
<polygon points="347.7,346.0 353.8,346.5 353.8,348.3 347.7,347.9" fill="#EE0000"/>
<polygon points="395.9,350.0 403.9,350.3 406.6,353.6 395.9,351.9" fill="#EE0000"/>
<polygon points="407.9,342.0 430.0,341.6 430.0,343.6 407.9,343.9" fill="#EE0000"/>
<polygon points="329.0,348.9 335.7,348.3 337.0,351.6 330.3,351.9" fill="#0000FA"/>
<polygon points="377.2,347.6 390.5,346.2 391.9,350.3 378.5,350.9" fill="#0000FA"/>
<polygon points="369.1,344.9 377.2,344.9 378.5,350.3 370.5,350.3" fill="#78A0F0"/>
<polygon points="450.8,316.1 473.5,314.1 493.6,311.5 513.6,309.5 517.7,310.1 517.7,314.1 507.0,319.5 500.3,322.2 486.9,323.5 476.2,327.5 466.8,330.2 460.1,332.9 453.4,332.2 464.1,327.5 466.1,321.5 460.1,316.8" fill="#5050F0"/>
<polygon points="473.5,316.1 493.6,313.5 505.6,315.5 494.9,322.8 480.2,324.9 470.8,328.9 466.8,326.2 470.8,320.8" fill="#6478F0"/>
<polygon points="464.1,332.9 473.5,328.9 486.9,324.9 500.3,322.8 507.0,320.8 505.6,326.2 494.9,328.9 494.9,334.2 473.5,335.6" fill="#78A0F0"/>
<polygon points="469.5,333.6 478.9,329.9 492.2,328.2 498.9,324.9 500.3,328.9 494.9,332.9 486.9,335.1 473.5,335.1" fill="#C8F0F0"/>
<polygon points="476.2,332.9 484.2,330.5 492.2,330.2 492.2,332.9 484.2,334.8" fill="#F0F0C8"/>
<polygon points="512.3,328.9 516.3,327.5 516.6,334.2 513.0,333.9" fill="#EE0000"/>
<polygon points="420.0,340.9 500.3,340.9 500.3,346.2 420.0,346.9" fill="#C8F0F0"/>
<polygon points="422.7,341.6 442.7,342.2 444.8,344.9 428.0,344.4" fill="#EE0000"/>
<polygon points="452.1,342.9 462.8,341.6 470.8,344.2 460.1,346.9 452.1,346.2" fill="#F0A078"/>
<polygon points="454.8,345.6 464.1,344.9 464.1,347.6 454.8,347.9" fill="#EE0000"/>
<polygon points="522.3,325.5 547.1,327.5 553.8,332.9 560.5,336.9 567.2,342.2 573.9,344.9 580.5,347.6 588.6,350.9 573.9,357.0 560.5,363.6 540.4,363.6 522.3,363.6" fill="#6478F0"/>
<polygon points="522.3,328.9 540.4,330.2 545.8,338.2 540.4,344.9 527.0,346.9 522.3,346.9" fill="#78A0F0"/>
<polygon points="522.3,348.9 533.7,350.3 540.4,355.6 553.8,357.0 567.2,352.9 560.5,363.6 522.3,363.6" fill="#5050F0"/>
<polygon points="540.4,356.3 553.8,355.6 560.5,362.3 540.4,363.0" fill="#0000FA"/>
<polygon points="519.0,348.9 527.0,348.3 531.0,355.6 521.7,357.0" fill="#0000FA"/>
<polygon points="511.6,348.9 515.6,348.3 515.6,352.3 512.3,352.7" fill="#EE0000"/>
<polygon points="560.1,363.7 573.4,357.0 586.8,353.0 600.2,350.3 609.6,349.0 614.9,353.6 600.2,359.7 584.1,365.0" fill="#F0A078"/>
<polygon points="574.8,359.7 586.8,355.0 600.2,352.3 606.9,353.6 596.2,358.3 584.1,362.3" fill="#F05050"/>
<polygon points="582.8,359.0 593.5,355.6 602.9,354.3 596.2,357.7 585.5,361.0" fill="#EE0000"/>
<polygon points="620.3,347.0 631.0,343.6 641.7,344.3 633.6,347.6 622.9,349.6" fill="#F07864"/>
<polygon points="625.6,346.3 633.6,344.3 639.0,344.9 631.0,347.0" fill="#EE0000"/>
<polygon points="671.8,338.9 673.8,332.9 675.4,338.9" fill="#F07864"/>
<polygon points="709.2,339.2 716.6,338.9 716.6,341.3 709.2,341.3" fill="#F07864"/>
<polygon points="540.0,326.9 548.0,328.2 560.1,337.6 573.4,345.6 580.1,351.0 566.8,359.0 557.4,359.0 548.0,353.6 540.0,356.3" fill="#6478F0"/>
<polygon points="540.0,332.2 545.4,334.9 544.0,342.9 540.0,345.6" fill="#78A0F0"/>
<polygon points="540.0,356.3 548.0,353.6 557.4,359.0 557.4,363.7 540.0,362.3" fill="#0000FA"/>
<polygon points="679.5,313.5 684.5,304.1 691.2,290.8 704.5,285.4 713.9,287.4 729.3,290.1 729.3,336.2 693.9,336.9 687.2,330.9 684.5,324.2" fill="#5050F0"/>
<polygon points="687.2,300.1 691.2,291.4 704.5,286.1 713.9,288.4 729.3,291.0 729.3,332.2 713.9,329.6 700.5,332.2 688.5,326.9 684.5,317.5" fill="#6478F0"/>
<polygon points="693.9,294.8 707.2,289.4 713.9,290.8 716.6,300.1 729.3,304.1 729.3,326.9 713.9,322.9 700.5,325.6 693.9,320.2 695.2,306.8" fill="#78A0F0"/>
<polygon points="703.2,304.1 709.9,304.8 708.6,310.8 703.9,309.5" fill="#6478F0"/>
<polygon points="699.2,295.1 708.8,293.4 703.5,299.1" fill="#C8F0F0"/>
<polygon points="707.2,315.5 720.6,310.8 723.5,319.8 716.6,315.1" fill="#C8F0F0"/>
<polygon points="624.3,301.5 633.6,298.1 647.0,296.1 660.4,295.1 674.2,294.5 685.1,294.1 679.1,298.1 660.4,300.1 647.0,301.7 633.6,305.1 625.6,305.8" fill="#F0A078"/>
<polygon points="628.3,302.5 641.7,298.8 660.4,296.4 674.2,295.9 674.2,298.1 660.4,299.1 644.4,300.8 632.3,304.1" fill="#F07864"/>
<polygon points="167.1,363.2 197.9,362.3 197.9,368.3 160.4,368.3" fill="#fff"/>
<polygon points="230.0,320.8 235.3,323.5 232.7,328.9 230.0,328.9" fill="#5050F0"/>
<polygon points="492.3,164.4 496.6,164.4 496.6,172.9 492.3,172.9" fill="#F0F0C8"/>
<polygon points="499.4,174.4 502.3,174.4 502.3,177.2 499.4,177.2" fill="#F0F0C8"/>
<polygon points="513.6,120.3 517.0,120.3 517.0,127.5 513.6,127.5" fill="#F0F0C8"/>
<polygon points="529.3,120.3 532.1,120.3 532.1,124.0 529.3,124.0" fill="#F0F0C8"/>
<polygon points="527.9,99.0 535.0,99.0 535.0,106.1 527.9,106.1" fill="#F0F0C8"/>
<polygon points="537.8,111.8 542.1,111.8 542.1,117.5 537.8,117.5" fill="#F0F0C8"/>
<polygon points="576.2,144.5 580.5,144.5 580.5,150.2 576.2,150.2" fill="#F0F0C8"/>
<polygon points="567.7,164.4 573.3,164.4 573.3,171.5 567.7,171.5" fill="#F0F0C8"/>
<polygon points="563.4,181.5 569.1,181.5 569.1,187.2 563.4,187.2" fill="#F0F0C8"/>
<polygon points="535.0,207.1 543.5,207.1 543.5,218.4 535.0,218.4" fill="#F0F0C8"/>
<polygon points="512.2,232.7 520.7,232.7 520.7,238.3 512.2,238.3" fill="#F0F0C8"/>
<polygon points="483.8,241.2 488.0,241.2 488.0,252.6 483.8,252.6" fill="#F0F0C8"/>
<polygon points="485.2,259.7 498.0,259.7 498.0,263.9 485.2,263.9" fill="#F0F0C8"/>
<polygon points="419.8,55.0 425.5,55.0 425.5,63.5 419.8,63.5" fill="#F0F0C8"/>
<polygon points="436.9,67.7 448.2,67.7 448.2,76.3 436.9,76.3" fill="#F0F0C8"/>
<polygon points="451.1,76.3 456.8,76.3 456.8,84.8 451.1,84.8" fill="#F0F0C8"/>
<polygon points="657.2,89.1 661.5,89.1 661.5,97.6 657.2,97.6" fill="#F0F0C8"/>
<polygon points="660.1,96.2 675.7,96.2 675.7,99.0 660.1,99.0" fill="#F0F0C8"/>
<polygon points="685.7,81.4 688.5,81.4 688.5,84.8 685.7,84.8" fill="#F0F0C8"/>
<polygon points="630.2,64.9 633.1,64.9 633.1,76.3 630.2,76.3" fill="#F0F0C8"/>
<polygon points="721.2,205.6 725.5,205.6 725.5,215.6 721.2,215.6" fill="#F0F0C8"/>
<polygon points="523.6,222.7 527.9,222.7 527.9,229.8 523.6,229.8" fill="#F0F0C8"/>
<polygon points="506.5,244.0 510.8,244.0 510.8,249.7 506.5,249.7" fill="#F0F0C8"/>
<use href="#mask"/><use href="#coast"/><g fill="none" stroke="#000" stroke-width="5.3" stroke-linejoin="miter"><rect x="362.0" y="306.5" width="158.0" height="31.1"/><rect x="520.0" y="291.8" width="156.9" height="30.8"/></g>
</g></g>
<rect x="46.8" y="51.3" width="681.8" height="317.7" fill="none" stroke="#000" stroke-width="2.5"/>
<line x1="40.3" y1="51.3" x2="46.8" y2="51.3" stroke="#000" stroke-width="2.5"/>
<text class="tk" x="0.1" y="59.9"><tspan textLength="22.9" lengthAdjust="spacingAndGlyphs">20</tspan><tspan dx="0.4" stroke-width="1.5" textLength="12.4" lengthAdjust="spacingAndGlyphs">N</tspan></text>
<line x1="40.3" y1="114.8" x2="46.8" y2="114.8" stroke="#000" stroke-width="2.5"/>
<text class="tk" x="12.4" y="123.4"><tspan dx="0.4" stroke-width="1.5" textLength="23.4" lengthAdjust="spacingAndGlyphs">EQ</tspan></text>
<line x1="40.3" y1="178.4" x2="46.8" y2="178.4" stroke="#000" stroke-width="2.5"/>
<text class="tk" x="0.7" y="187.0"><tspan textLength="22.9" lengthAdjust="spacingAndGlyphs">20</tspan><tspan dx="0.4" stroke-width="1.5" textLength="11.8" lengthAdjust="spacingAndGlyphs">S</tspan></text>
<line x1="40.3" y1="241.9" x2="46.8" y2="241.9" stroke="#000" stroke-width="2.5"/>
<text class="tk" x="0.7" y="250.5"><tspan textLength="22.9" lengthAdjust="spacingAndGlyphs">40</tspan><tspan dx="0.4" stroke-width="1.5" textLength="11.8" lengthAdjust="spacingAndGlyphs">S</tspan></text>
<line x1="40.3" y1="305.5" x2="46.8" y2="305.5" stroke="#000" stroke-width="2.5"/>
<text class="tk" x="0.7" y="314.1"><tspan textLength="22.9" lengthAdjust="spacingAndGlyphs">60</tspan><tspan dx="0.4" stroke-width="1.5" textLength="11.8" lengthAdjust="spacingAndGlyphs">S</tspan></text>
<line x1="40.3" y1="369.0" x2="46.8" y2="369.0" stroke="#000" stroke-width="2.5"/>
<text class="tk" x="0.7" y="377.6"><tspan textLength="22.9" lengthAdjust="spacingAndGlyphs">80</tspan><tspan dx="0.4" stroke-width="1.5" textLength="11.8" lengthAdjust="spacingAndGlyphs">S</tspan></text>
<line x1="46.8" y1="369.0" x2="46.8" y2="376.5" stroke="#000" stroke-width="2.5"/>
<text class="tk" x="24.6" y="394.2"><tspan textLength="34.3" lengthAdjust="spacingAndGlyphs">120</tspan><tspan dx="0.4" stroke-width="1.5" textLength="10.8" lengthAdjust="spacingAndGlyphs">E</tspan></text>
<line x1="125.5" y1="369.0" x2="125.5" y2="376.5" stroke="#000" stroke-width="2.5"/>
<text class="tk" x="103.3" y="394.2"><tspan textLength="34.3" lengthAdjust="spacingAndGlyphs">150</tspan><tspan dx="0.4" stroke-width="1.5" textLength="10.8" lengthAdjust="spacingAndGlyphs">E</tspan></text>
<line x1="204.1" y1="369.0" x2="204.1" y2="376.5" stroke="#000" stroke-width="2.5"/>
<text class="tk" x="187.5" y="394.2"><tspan textLength="34.3" lengthAdjust="spacingAndGlyphs">180</tspan></text>
<line x1="282.8" y1="369.0" x2="282.8" y2="376.5" stroke="#000" stroke-width="2.5"/>
<text class="tk" x="259.8" y="394.2"><tspan textLength="34.3" lengthAdjust="spacingAndGlyphs">150</tspan><tspan dx="0.4" stroke-width="1.5" textLength="12.4" lengthAdjust="spacingAndGlyphs">W</tspan></text>
<line x1="361.4" y1="369.0" x2="361.4" y2="376.5" stroke="#000" stroke-width="2.5"/>
<text class="tk" x="338.4" y="394.2"><tspan textLength="34.3" lengthAdjust="spacingAndGlyphs">120</tspan><tspan dx="0.4" stroke-width="1.5" textLength="12.4" lengthAdjust="spacingAndGlyphs">W</tspan></text>
<line x1="440.1" y1="369.0" x2="440.1" y2="376.5" stroke="#000" stroke-width="2.5"/>
<text class="tk" x="422.8" y="394.2"><tspan textLength="22.9" lengthAdjust="spacingAndGlyphs">90</tspan><tspan dx="0.4" stroke-width="1.5" textLength="12.4" lengthAdjust="spacingAndGlyphs">W</tspan></text>
<line x1="518.7" y1="369.0" x2="518.7" y2="376.5" stroke="#000" stroke-width="2.5"/>
<text class="tk" x="501.5" y="394.2"><tspan textLength="22.9" lengthAdjust="spacingAndGlyphs">60</tspan><tspan dx="0.4" stroke-width="1.5" textLength="12.4" lengthAdjust="spacingAndGlyphs">W</tspan></text>
<line x1="597.4" y1="369.0" x2="597.4" y2="376.5" stroke="#000" stroke-width="2.5"/>
<text class="tk" x="580.1" y="394.2"><tspan textLength="22.9" lengthAdjust="spacingAndGlyphs">30</tspan><tspan dx="0.4" stroke-width="1.5" textLength="12.4" lengthAdjust="spacingAndGlyphs">W</tspan></text>
<line x1="676.0" y1="369.0" x2="676.0" y2="376.5" stroke="#000" stroke-width="2.5"/>
<text class="tk" x="670.9" y="394.2"><tspan textLength="11.4" lengthAdjust="spacingAndGlyphs">0</tspan></text>
<g transform="translate(773.1,0)"><g clip-path="url(#clip)">
<polygon points="45.9,302.1 47.6,302.1 47.6,298.8 50.3,298.8 50.3,302.1 103.8,302.1 103.8,298.8 111.8,298.8 111.8,295.4 115.2,295.4 115.2,298.8 121.2,298.8 121.2,302.1 194.8,302.1 194.8,298.5 228.9,298.5 228.9,298.5 248.3,298.5 248.3,295.1 251.6,295.1 251.6,298.5 263.0,298.5 263.0,302.1 283.8,302.1 283.8,298.5 289.8,298.5 289.8,295.1 295.8,295.1 295.8,298.5 303.8,298.5 303.8,295.1 315.9,295.1 315.9,291.4 336.6,291.4 336.6,295.1 372.0,295.1 372.0,291.4 384.1,291.4 384.1,295.1 398.8,295.1 398.8,298.5 402.1,298.5 402.1,302.1 418.9,302.1 418.9,314.8 418.9,303.5 443.0,303.5 443.0,302.1 497.8,302.1 497.8,300.1 501.8,300.1 501.8,298.1 505.2,298.1 505.2,295.1 517.6,295.1 517.6,288.8 560.7,288.8 560.7,284.8 572.8,284.8 572.8,283.4 584.8,283.4 584.8,280.7 608.9,280.7 608.9,277.4 618.9,277.4 584.1,284.8 584.1,281.1 614.2,281.1 614.2,277.4 634.9,277.4 634.9,273.6 643.6,273.6 643.6,270.0 652.3,270.0 652.3,273.6 655.6,273.6 655.6,277.4 727.9,277.4 727.9,369.7 257.0,371.7 257.0,362.3 228.9,362.3 183.4,362.3 183.4,371.7 45.9,371.7" fill="#C8F0F0"/>
<polygon points="45.9,302.1 103.8,302.1 103.8,298.8 109.8,298.8 109.8,305.4 119.2,306.8 132.6,306.1 145.9,306.8 159.3,304.1 163.3,302.1 179.4,302.1 179.4,305.4 166.0,308.8 158.0,311.5 156.6,315.5 145.9,319.5 132.6,317.5 119.2,316.8 101.8,320.2 113.8,324.9 132.6,330.2 145.9,334.2 145.9,339.6 45.9,331.5" fill="#F0F0C8"/>
<polygon points="45.9,306.8 56.3,308.8 61.6,305.9 71.7,305.9 73.4,312.8 45.9,312.8" fill="#C8F0F0"/>
<polygon points="199.4,338.2 212.8,334.2 226.2,334.9 238.9,335.6 238.9,346.2 226.2,345.6 212.8,342.2 203.4,340.2" fill="#F0F0C8"/>
<polygon points="46.9,319.5 65.0,319.9 65.0,320.6 46.9,320.3" fill="#F0A078"/>
<polygon points="319.9,292.1 336.6,292.1 336.6,295.4 372.0,295.4 372.0,291.7 384.1,291.7 384.1,295.4 398.8,295.4 398.8,298.8 402.1,298.8 402.1,302.1 418.9,302.1 418.9,305.1 428.9,305.1 428.9,314.1 416.2,315.5 402.8,317.5 389.4,316.8 376.1,316.1 364.7,315.5 359.3,310.1 353.3,305.9 346.6,301.0 335.9,299.2 325.2,297.4" fill="#F0F0C8"/>
<polygon points="412.2,317.5 421.5,316.1 428.9,316.8 428.9,322.2 421.5,320.8" fill="#F0F0C8"/>
<polygon points="228.9,334.2 239.6,334.2 253.0,339.6 271.7,339.6 277.1,336.9 295.8,335.6 322.6,332.9 342.6,331.8 348.0,334.9 342.6,339.6 322.6,342.9 295.8,345.6 269.0,348.3 255.7,348.3 242.3,344.9 228.9,342.2" fill="#F0F0C8"/>
<polygon points="376.1,340.9 404.1,340.9 406.8,346.2 402.8,351.6 389.4,351.6 376.1,348.9" fill="#F0F0C8"/>
<polygon points="378.7,334.2 389.4,332.9 402.8,333.9 416.2,332.9 428.9,331.5 428.9,335.6 378.7,335.6" fill="#F0F0C8"/>
<polygon points="341.3,346.9 349.3,346.9 349.3,349.2 341.3,349.2" fill="#F0F0C8"/>
<polygon points="249.6,316.1 262.3,312.8 282.4,312.1 309.2,311.7 322.6,312.8 330.6,316.1 335.9,319.8 322.6,323.5 309.2,325.5 298.5,325.5 285.1,322.8 269.0,319.5 255.7,317.1" fill="#78A0F0"/>
<polygon points="418.9,311.5 445.7,310.2 463.1,311.5 475.1,314.9 475.1,318.9 459.0,324.2 445.7,322.9 418.9,321.5" fill="#F0F0C8"/>
<polygon points="418.9,332.9 426.9,331.6 432.3,334.9 418.9,335.2" fill="#F0F0C8"/>
<polygon points="463.1,340.3 475.1,340.3 472.4,343.6 463.1,345.6" fill="#F0F0C8"/>
<polygon points="539.3,313.5 547.3,312.8 550.0,318.9 535.3,319.5" fill="#F0F0C8"/>
<polygon points="522.6,325.6 535.3,325.6 536.6,329.6 544.6,337.6 534.0,340.3 535.3,345.6 543.3,351.0 552.7,355.0 566.1,356.3 579.4,359.0 566.1,363.0 547.3,363.7 525.9,361.7 517.9,356.3 519.2,345.6 517.9,340.3" fill="#F0F0C8"/>
<polygon points="560.7,285.0 567.4,285.0 567.4,288.5 560.7,288.5" fill="#F0F0C8"/>
<polygon points="584.8,281.0 598.2,281.4 598.2,284.1 584.8,284.1" fill="#F0F0C8"/>
<polygon points="511.2,295.4 517.2,295.4 517.2,298.8 511.2,298.1" fill="#F0F0C8"/>
<polygon points="590.8,302.8 596.8,300.1 603.5,299.5 608.9,296.1 618.9,296.8 618.9,307.5 611.5,306.8 606.2,305.5 598.2,307.5 592.8,305.5" fill="#78A0F0"/>
<polygon points="556.7,304.8 562.0,304.1 562.0,306.1 557.4,306.6" fill="#78A0F0"/>
<polygon points="584.1,281.4 603.5,281.4 602.1,284.1 591.4,284.4 584.1,283.4" fill="#F0F0C8"/>
<polygon points="608.8,281.4 614.2,281.4 614.2,277.7 626.9,277.7 626.2,284.1 610.2,284.4" fill="#F0F0C8"/>
<polygon points="638.3,274.1 643.6,274.1 643.6,270.4 652.3,270.4 652.3,274.1 655.6,274.1 656.3,280.1 650.3,277.4 639.6,276.7" fill="#F0F0C8"/>
<polygon points="539.3,313.5 547.3,312.8 550.0,319.5 537.9,319.5" fill="#F0F0C8"/>
<polygon points="626.2,319.5 636.9,316.2 646.3,310.8 654.3,306.1 663.7,306.8 674.4,306.1 674.4,319.8" fill="#F0F0C8"/>
<polygon points="679.5,291.4 703.8,288.1 714.5,290.8 722.5,296.1 727.9,297.5 727.9,338.9 714.5,334.9 703.8,334.9 703.8,329.6 690.4,329.6 677.1,332.9 663.7,332.9 639.6,329.6 638.3,325.6 679.5,325.6" fill="#F0F0C8"/>
<polygon points="679.5,300.1 690.4,299.5 702.5,305.5 690.4,310.2 679.5,309.5" fill="#C8F0F0"/>
<polygon points="604.8,337.6 615.5,332.9 632.9,332.2 628.9,335.6 610.2,338.9" fill="#F0F0C8"/>
<polygon points="529.9,325.6 535.9,326.9 537.9,332.2 544.6,337.6 533.9,340.3 540.6,348.3 550.0,353.6 570.0,359.0 580.7,361.7 574.0,367.0 543.3,365.7 529.9,361.7" fill="#F0F0C8"/>
<polygon points="590.8,302.8 599.5,300.1 607.5,296.1 615.5,296.8 623.5,299.5 630.9,302.1 623.5,306.1 612.8,307.5 604.8,306.1 596.8,307.5" fill="#78A0F0"/>
<use href="#mask"/><use href="#coast"/><g fill="none" stroke="#000" stroke-width="5.3" stroke-linejoin="miter"><rect x="362.3" y="306.7" width="157.7" height="30.8"/><rect x="520.0" y="292.0" width="156.8" height="30.7"/></g>
</g></g>
<rect x="819.9" y="51.3" width="681.8" height="317.7" fill="none" stroke="#000" stroke-width="2.5"/>
<line x1="813.4" y1="51.3" x2="819.9" y2="51.3" stroke="#000" stroke-width="2.5"/>
<text class="tk" x="773.2" y="59.9"><tspan textLength="22.9" lengthAdjust="spacingAndGlyphs">20</tspan><tspan dx="0.4" stroke-width="1.5" textLength="12.4" lengthAdjust="spacingAndGlyphs">N</tspan></text>
<line x1="813.4" y1="114.8" x2="819.9" y2="114.8" stroke="#000" stroke-width="2.5"/>
<text class="tk" x="785.5" y="123.4"><tspan dx="0.4" stroke-width="1.5" textLength="23.4" lengthAdjust="spacingAndGlyphs">EQ</tspan></text>
<line x1="813.4" y1="178.4" x2="819.9" y2="178.4" stroke="#000" stroke-width="2.5"/>
<text class="tk" x="773.8" y="187.0"><tspan textLength="22.9" lengthAdjust="spacingAndGlyphs">20</tspan><tspan dx="0.4" stroke-width="1.5" textLength="11.8" lengthAdjust="spacingAndGlyphs">S</tspan></text>
<line x1="813.4" y1="241.9" x2="819.9" y2="241.9" stroke="#000" stroke-width="2.5"/>
<text class="tk" x="773.8" y="250.5"><tspan textLength="22.9" lengthAdjust="spacingAndGlyphs">40</tspan><tspan dx="0.4" stroke-width="1.5" textLength="11.8" lengthAdjust="spacingAndGlyphs">S</tspan></text>
<line x1="813.4" y1="305.5" x2="819.9" y2="305.5" stroke="#000" stroke-width="2.5"/>
<text class="tk" x="773.8" y="314.1"><tspan textLength="22.9" lengthAdjust="spacingAndGlyphs">60</tspan><tspan dx="0.4" stroke-width="1.5" textLength="11.8" lengthAdjust="spacingAndGlyphs">S</tspan></text>
<line x1="813.4" y1="369.0" x2="819.9" y2="369.0" stroke="#000" stroke-width="2.5"/>
<text class="tk" x="773.8" y="377.6"><tspan textLength="22.9" lengthAdjust="spacingAndGlyphs">80</tspan><tspan dx="0.4" stroke-width="1.5" textLength="11.8" lengthAdjust="spacingAndGlyphs">S</tspan></text>
<line x1="819.9" y1="369.0" x2="819.9" y2="376.5" stroke="#000" stroke-width="2.5"/>
<text class="tk" x="797.7" y="394.2"><tspan textLength="34.3" lengthAdjust="spacingAndGlyphs">120</tspan><tspan dx="0.4" stroke-width="1.5" textLength="10.8" lengthAdjust="spacingAndGlyphs">E</tspan></text>
<line x1="898.6" y1="369.0" x2="898.6" y2="376.5" stroke="#000" stroke-width="2.5"/>
<text class="tk" x="876.4" y="394.2"><tspan textLength="34.3" lengthAdjust="spacingAndGlyphs">150</tspan><tspan dx="0.4" stroke-width="1.5" textLength="10.8" lengthAdjust="spacingAndGlyphs">E</tspan></text>
<line x1="977.2" y1="369.0" x2="977.2" y2="376.5" stroke="#000" stroke-width="2.5"/>
<text class="tk" x="960.6" y="394.2"><tspan textLength="34.3" lengthAdjust="spacingAndGlyphs">180</tspan></text>
<line x1="1055.9" y1="369.0" x2="1055.9" y2="376.5" stroke="#000" stroke-width="2.5"/>
<text class="tk" x="1032.9" y="394.2"><tspan textLength="34.3" lengthAdjust="spacingAndGlyphs">150</tspan><tspan dx="0.4" stroke-width="1.5" textLength="12.4" lengthAdjust="spacingAndGlyphs">W</tspan></text>
<line x1="1134.5" y1="369.0" x2="1134.5" y2="376.5" stroke="#000" stroke-width="2.5"/>
<text class="tk" x="1111.5" y="394.2"><tspan textLength="34.3" lengthAdjust="spacingAndGlyphs">120</tspan><tspan dx="0.4" stroke-width="1.5" textLength="12.4" lengthAdjust="spacingAndGlyphs">W</tspan></text>
<line x1="1213.2" y1="369.0" x2="1213.2" y2="376.5" stroke="#000" stroke-width="2.5"/>
<text class="tk" x="1195.9" y="394.2"><tspan textLength="22.9" lengthAdjust="spacingAndGlyphs">90</tspan><tspan dx="0.4" stroke-width="1.5" textLength="12.4" lengthAdjust="spacingAndGlyphs">W</tspan></text>
<line x1="1291.8" y1="369.0" x2="1291.8" y2="376.5" stroke="#000" stroke-width="2.5"/>
<text class="tk" x="1274.6" y="394.2"><tspan textLength="22.9" lengthAdjust="spacingAndGlyphs">60</tspan><tspan dx="0.4" stroke-width="1.5" textLength="12.4" lengthAdjust="spacingAndGlyphs">W</tspan></text>
<line x1="1370.5" y1="369.0" x2="1370.5" y2="376.5" stroke="#000" stroke-width="2.5"/>
<text class="tk" x="1353.2" y="394.2"><tspan textLength="22.9" lengthAdjust="spacingAndGlyphs">30</tspan><tspan dx="0.4" stroke-width="1.5" textLength="12.4" lengthAdjust="spacingAndGlyphs">W</tspan></text>
<line x1="1449.1" y1="369.0" x2="1449.1" y2="376.5" stroke="#000" stroke-width="2.5"/>
<text class="tk" x="1444.0" y="394.2"><tspan textLength="11.4" lengthAdjust="spacingAndGlyphs">0</tspan></text>
<g transform="translate(0,414.9)"><g clip-path="url(#clip)">
<polygon points="47.0,294.5 50.7,294.5 50.7,297.9 54.0,297.9 54.0,301.5 95.5,301.5 95.5,297.9 100.9,297.9 100.9,301.5 106.9,301.5 106.9,297.9 115.6,297.9 115.6,294.5 118.9,294.5 118.9,297.9 121.9,297.9 121.9,301.5 189.2,301.5 189.2,297.9 203.9,297.9 203.9,294.5 218.6,294.5 218.6,297.9 225.3,297.9 225.3,294.5 228.0,294.5 228.0,297.9 230.0,297.9 230.0,297.9 266.1,297.9 266.1,301.5 286.9,301.5 286.9,297.9 301.6,297.9 301.6,294.5 304.2,294.5 304.2,291.2 310.3,291.2 310.3,287.2 322.3,287.2 322.3,283.8 339.7,283.8 339.7,287.2 351.7,287.2 351.7,291.2 387.2,291.2 387.2,294.5 407.9,294.5 407.9,297.9 422.6,297.9 422.6,301.2 422.7,301.2 458.1,301.2 458.1,297.9 460.8,297.9 460.8,301.2 498.9,301.2 498.9,297.9 502.3,297.9 502.3,294.5 515.6,294.5 515.6,289.9 546.4,289.9 546.4,283.8 575.9,283.8 575.9,280.5 578.5,280.5 578.5,283.8 593.2,283.8 593.2,277.1 608.0,277.1 608.0,273.1 610.6,273.1 610.6,277.1 612.6,277.1 612.6,273.1 620.0,273.1 620.3,273.1 622.9,273.1 622.9,269.8 653.0,269.8 653.0,273.1 673.8,273.1 673.8,277.1 679.8,277.1 679.8,273.1 702.5,273.1 702.5,277.1 729.3,277.1 729.3,374.8 258.8,372.1 258.8,359.4 252.1,362.1 230.0,362.1 183.8,362.1 183.8,372.1 47.0,372.1" fill="#C8F0F0"/>
<polygon points="80.1,307.9 86.2,302.6 95.5,301.9 95.5,298.1 100.9,298.1 100.9,301.5 106.9,301.5 106.9,298.1 114.9,298.5 109.6,303.9 110.2,308.6 80.1,309.0" fill="#F0F0C8"/>
<polygon points="137.7,304.6 141.7,301.9 189.2,301.5 189.2,298.1 203.9,298.1 203.9,294.8 218.6,294.8 218.6,298.1 225.3,298.1 225.3,294.8 228.0,294.8 230.0,299.9 219.3,303.9 203.2,306.6 197.9,308.6 185.8,309.2 181.8,311.9 168.4,311.9 163.1,309.2 156.4,306.6 153.7,308.6 141.7,308.2" fill="#F0F0C8"/>
<polygon points="222.6,352.1 230.0,351.4 240.0,354.7 240.0,362.1 230.0,362.1 228.6,357.4" fill="#F0F0C8"/>
<polygon points="47.0,318.6 60.1,318.3 73.4,319.3 66.8,320.6 47.0,321.3" fill="#78A0F0"/>
<polygon points="82.1,315.9 93.5,315.3 101.5,317.0 106.9,319.3 98.9,321.0 90.8,320.6 85.5,317.9" fill="#78A0F0"/>
<polygon points="155.1,322.9 165.1,322.9 160.4,324.2" fill="#78A0F0"/>
<polygon points="230.6,316.6 240.0,313.9 240.0,319.9 235.3,319.3" fill="#78A0F0"/>
<polygon points="334.4,284.1 339.7,284.1 339.7,287.2 336.4,287.2" fill="#F0F0C8"/>
<polygon points="395.9,294.8 407.9,294.8 407.9,298.1 422.6,298.1 422.6,301.5 430.0,301.5 430.0,304.6 399.2,304.6" fill="#F0F0C8"/>
<polygon points="383.9,315.3 401.2,311.2 430.0,310.6 430.0,315.9 410.6,316.6 390.5,316.6" fill="#F0F0C8"/>
<polygon points="230.0,350.7 238.0,353.4 246.1,357.4 252.1,359.4 252.1,362.1 230.0,362.1" fill="#F0F0C8"/>
<polygon points="231.3,315.9 243.4,313.9 256.8,313.3 274.1,311.2 290.2,312.6 303.6,316.6 317.0,319.9 334.4,322.6 358.4,322.4 377.2,324.6 390.5,324.0 403.9,326.0 417.3,326.0 430.0,326.6 430.0,336.0 361.1,336.0 358.4,329.3 343.7,328.0 334.4,330.6 323.6,334.7 310.3,338.7 296.9,342.0 283.5,343.4 270.1,342.7 256.8,338.7 248.7,333.3 247.4,330.0 240.7,326.6 242.7,323.3 236.7,319.9" fill="#78A0F0"/>
<polygon points="327.7,344.7 337.0,341.4 350.4,339.4 358.4,338.7 430.0,340.0 430.0,344.0 407.9,345.4 397.2,348.7 377.2,347.4 363.8,346.0 358.4,344.3 347.7,345.4 345.1,347.4 341.0,345.4 333.0,346.0" fill="#78A0F0"/>
<polygon points="304.2,301.2 308.9,297.2 312.9,296.5 318.3,293.9 323.6,293.2 334.4,294.5 331.7,299.9 329.7,305.2 325.0,303.2 321.0,304.6 315.6,302.6 310.3,303.9" fill="#78A0F0"/>
<polygon points="420.0,298.5 422.7,298.5 422.7,301.5 420.0,301.5" fill="#F0F0C8"/>
<polygon points="472.2,301.5 482.9,301.5 480.2,304.6 472.2,304.6" fill="#F0F0C8"/>
<polygon points="420.0,310.3 466.8,310.3 460.1,313.3 446.8,315.3 433.4,316.6 420.0,316.6" fill="#F0F0C8"/>
<polygon points="546.4,284.5 557.8,284.5 557.8,289.9 546.4,289.9" fill="#F0F0C8"/>
<polygon points="575.2,357.4 585.9,356.1 593.9,356.7 587.2,360.8 577.9,364.1" fill="#F0F0C8"/>
<polygon points="420.0,326.0 433.4,324.6 446.8,323.3 460.1,321.3 473.5,318.6 486.9,315.9 500.3,311.9 511.0,309.9 520.3,305.2 527.0,303.2 540.4,300.6 553.8,297.9 567.2,296.1 580.5,295.6 593.9,295.2 607.3,293.9 620.0,291.9 620.0,310.6 607.3,309.9 597.9,310.6 587.2,305.9 580.5,306.6 571.2,308.6 560.5,310.6 553.8,309.9 547.1,307.9 540.4,311.2 537.7,313.9 543.1,316.6 537.7,318.3 515.6,318.3 507.0,321.3 500.3,324.0 494.9,326.6 489.6,330.6 482.9,332.0 477.5,336.0 420.0,336.0" fill="#78A0F0"/>
<polygon points="520.3,322.4 531.0,322.9 527.0,324.0 520.3,324.0" fill="#78A0F0"/>
<polygon points="426.7,332.0 436.1,330.0 453.4,329.3 473.5,330.0 464.1,332.7 446.8,333.3 433.4,334.9 426.7,334.9" fill="#6478F0"/>
<polygon points="420.0,340.3 446.8,340.3 464.1,341.4 453.4,344.7 433.4,343.4 420.0,342.7" fill="#78A0F0"/>
<polygon points="552.4,301.2 560.5,300.6 567.2,301.9 573.9,301.2 575.2,303.2 567.2,305.2 559.1,305.9 553.8,304.6" fill="#6478F0"/>
<polygon points="584.5,298.5 593.9,296.5 607.3,295.9 620.0,297.2 620.0,306.6 614.0,306.6 607.3,304.6 599.3,305.2 592.6,303.9 587.2,301.9" fill="#6478F0"/>
<polygon points="607.3,297.2 612.6,296.1 618.0,298.5 615.3,301.2 610.0,299.9" fill="#5050F0"/>
<polygon points="546.0,284.5 558.1,284.5 558.1,289.9 546.0,289.9" fill="#F0F0C8"/>
<polygon points="608.2,273.8 610.9,273.8 610.9,278.5 608.2,278.5" fill="#F0F0C8"/>
<polygon points="650.4,273.8 653.7,273.8 653.7,277.1 650.4,277.1" fill="#F0F0C8"/>
<polygon points="664.4,273.8 673.8,273.8 673.8,277.1 679.8,277.1 679.8,273.4 702.5,273.4 702.5,277.1 712.6,277.8 700.5,277.4 691.2,279.8 673.8,279.8 664.4,279.8" fill="#F0F0C8"/>
<polygon points="677.8,305.2 687.2,299.9 693.9,295.9 700.5,291.9 701.9,286.5 711.2,285.2 719.3,288.5 729.3,293.2 729.3,325.3 713.9,328.0 700.5,329.3 687.2,332.0 673.8,332.0 653.7,333.3 645.7,330.6 642.3,325.3 645.7,322.9 677.8,322.9" fill="#F0F0C8"/>
<polygon points="647.0,317.9 653.7,311.9 667.1,307.2 673.8,305.2 673.8,317.9" fill="#F0F0C8"/>
<polygon points="628.3,338.7 641.7,337.3 643.0,340.0 633.6,342.7 628.3,344.0" fill="#F0F0C8"/>
<polygon points="575.5,357.4 586.8,356.1 593.5,357.4 584.1,362.8 576.1,364.8" fill="#F0F0C8"/>
<polygon points="540.0,303.2 553.4,298.5 566.8,296.5 586.8,295.2 600.2,293.9 606.9,291.2 613.6,289.2 633.6,287.8 647.0,288.5 653.7,289.9 659.1,296.5 649.7,301.2 636.3,303.9 622.9,309.2 609.6,311.2 596.2,309.9 584.1,306.6 573.4,307.9 560.1,310.6 550.7,309.9 540.0,311.2" fill="#78A0F0"/>
<polygon points="552.0,301.9 566.8,299.9 585.5,296.5 600.2,294.8 612.2,291.9 612.2,288.9 633.6,287.8 649.7,289.2 649.7,291.9 629.6,295.6 627.0,300.6 620.3,303.9 609.6,305.2 597.5,305.9 586.8,303.2 573.4,301.9 560.1,305.2 553.4,304.6" fill="#6478F0"/>
<polygon points="606.9,297.2 612.2,295.9 617.6,297.9 614.9,301.2 609.6,299.9" fill="#5050F0"/>
<polygon points="540.0,313.9 543.3,315.9 540.0,317.9" fill="#78A0F0"/>
<use href="#mask"/><use href="#coast"/><g fill="none" stroke="#000" stroke-width="5.3" stroke-linejoin="miter"><rect x="360.6" y="307.4" width="157.5" height="30.4"/><rect x="518.1" y="292.5" width="157.2" height="27.8"/></g>
</g></g>
<rect x="46.8" y="466.2" width="681.8" height="317.7" fill="none" stroke="#000" stroke-width="2.5"/>
<line x1="40.3" y1="466.2" x2="46.8" y2="466.2" stroke="#000" stroke-width="2.5"/>
<text class="tk" x="0.1" y="474.8"><tspan textLength="22.9" lengthAdjust="spacingAndGlyphs">20</tspan><tspan dx="0.4" stroke-width="1.5" textLength="12.4" lengthAdjust="spacingAndGlyphs">N</tspan></text>
<line x1="40.3" y1="529.7" x2="46.8" y2="529.7" stroke="#000" stroke-width="2.5"/>
<text class="tk" x="12.4" y="538.3"><tspan dx="0.4" stroke-width="1.5" textLength="23.4" lengthAdjust="spacingAndGlyphs">EQ</tspan></text>
<line x1="40.3" y1="593.3" x2="46.8" y2="593.3" stroke="#000" stroke-width="2.5"/>
<text class="tk" x="0.7" y="601.9"><tspan textLength="22.9" lengthAdjust="spacingAndGlyphs">20</tspan><tspan dx="0.4" stroke-width="1.5" textLength="11.8" lengthAdjust="spacingAndGlyphs">S</tspan></text>
<line x1="40.3" y1="656.8" x2="46.8" y2="656.8" stroke="#000" stroke-width="2.5"/>
<text class="tk" x="0.7" y="665.4"><tspan textLength="22.9" lengthAdjust="spacingAndGlyphs">40</tspan><tspan dx="0.4" stroke-width="1.5" textLength="11.8" lengthAdjust="spacingAndGlyphs">S</tspan></text>
<line x1="40.3" y1="720.4" x2="46.8" y2="720.4" stroke="#000" stroke-width="2.5"/>
<text class="tk" x="0.7" y="729.0"><tspan textLength="22.9" lengthAdjust="spacingAndGlyphs">60</tspan><tspan dx="0.4" stroke-width="1.5" textLength="11.8" lengthAdjust="spacingAndGlyphs">S</tspan></text>
<line x1="40.3" y1="783.9" x2="46.8" y2="783.9" stroke="#000" stroke-width="2.5"/>
<text class="tk" x="0.7" y="792.5"><tspan textLength="22.9" lengthAdjust="spacingAndGlyphs">80</tspan><tspan dx="0.4" stroke-width="1.5" textLength="11.8" lengthAdjust="spacingAndGlyphs">S</tspan></text>
<line x1="46.8" y1="783.9" x2="46.8" y2="791.4" stroke="#000" stroke-width="2.5"/>
<text class="tk" x="24.6" y="809.1"><tspan textLength="34.3" lengthAdjust="spacingAndGlyphs">120</tspan><tspan dx="0.4" stroke-width="1.5" textLength="10.8" lengthAdjust="spacingAndGlyphs">E</tspan></text>
<line x1="125.5" y1="783.9" x2="125.5" y2="791.4" stroke="#000" stroke-width="2.5"/>
<text class="tk" x="103.3" y="809.1"><tspan textLength="34.3" lengthAdjust="spacingAndGlyphs">150</tspan><tspan dx="0.4" stroke-width="1.5" textLength="10.8" lengthAdjust="spacingAndGlyphs">E</tspan></text>
<line x1="204.1" y1="783.9" x2="204.1" y2="791.4" stroke="#000" stroke-width="2.5"/>
<text class="tk" x="187.5" y="809.1"><tspan textLength="34.3" lengthAdjust="spacingAndGlyphs">180</tspan></text>
<line x1="282.8" y1="783.9" x2="282.8" y2="791.4" stroke="#000" stroke-width="2.5"/>
<text class="tk" x="259.8" y="809.1"><tspan textLength="34.3" lengthAdjust="spacingAndGlyphs">150</tspan><tspan dx="0.4" stroke-width="1.5" textLength="12.4" lengthAdjust="spacingAndGlyphs">W</tspan></text>
<line x1="361.4" y1="783.9" x2="361.4" y2="791.4" stroke="#000" stroke-width="2.5"/>
<text class="tk" x="338.4" y="809.1"><tspan textLength="34.3" lengthAdjust="spacingAndGlyphs">120</tspan><tspan dx="0.4" stroke-width="1.5" textLength="12.4" lengthAdjust="spacingAndGlyphs">W</tspan></text>
<line x1="440.1" y1="783.9" x2="440.1" y2="791.4" stroke="#000" stroke-width="2.5"/>
<text class="tk" x="422.8" y="809.1"><tspan textLength="22.9" lengthAdjust="spacingAndGlyphs">90</tspan><tspan dx="0.4" stroke-width="1.5" textLength="12.4" lengthAdjust="spacingAndGlyphs">W</tspan></text>
<line x1="518.7" y1="783.9" x2="518.7" y2="791.4" stroke="#000" stroke-width="2.5"/>
<text class="tk" x="501.5" y="809.1"><tspan textLength="22.9" lengthAdjust="spacingAndGlyphs">60</tspan><tspan dx="0.4" stroke-width="1.5" textLength="12.4" lengthAdjust="spacingAndGlyphs">W</tspan></text>
<line x1="597.4" y1="783.9" x2="597.4" y2="791.4" stroke="#000" stroke-width="2.5"/>
<text class="tk" x="580.1" y="809.1"><tspan textLength="22.9" lengthAdjust="spacingAndGlyphs">30</tspan><tspan dx="0.4" stroke-width="1.5" textLength="12.4" lengthAdjust="spacingAndGlyphs">W</tspan></text>
<line x1="676.0" y1="783.9" x2="676.0" y2="791.4" stroke="#000" stroke-width="2.5"/>
<text class="tk" x="670.9" y="809.1"><tspan textLength="11.4" lengthAdjust="spacingAndGlyphs">0</tspan></text>
<g transform="translate(773.1,414.9)"><g clip-path="url(#clip)">
<polygon points="45.9,297.9 53.6,297.9 53.6,301.5 74.3,301.5 74.3,305.2 89.1,305.2 89.1,301.5 106.5,301.5 106.5,297.9 123.8,297.9 123.8,301.5 195.4,301.5 195.4,297.9 210.1,297.9 210.1,294.5 212.8,294.5 212.8,297.9 218.8,297.9 218.8,294.5 221.5,294.5 221.5,297.9 228.9,297.9 228.9,297.9 236.3,297.9 236.3,294.5 238.9,294.5 238.9,297.9 244.9,297.9 244.9,294.5 248.3,294.5 248.3,297.9 266.4,297.9 266.4,301.5 277.7,301.5 277.7,297.9 286.4,297.9 286.4,294.5 292.4,294.5 292.4,291.2 295.1,291.2 295.1,294.5 307.2,294.5 307.2,291.2 321.9,291.2 321.9,287.2 327.9,287.2 327.9,291.2 342.6,291.2 342.6,294.5 348.6,294.5 348.6,291.2 360.0,291.2 360.0,287.2 363.4,287.2 363.4,291.2 380.7,291.2 380.7,294.5 386.8,294.5 386.8,297.9 398.1,297.9 398.1,301.5 418.9,301.5 418.9,301.5 443.0,301.5 443.0,300.1 499.2,300.1 499.2,297.9 502.5,297.9 502.5,294.5 517.6,294.5 517.6,289.2 555.4,289.2 555.4,283.8 564.7,283.8 564.7,280.5 578.8,280.5 578.8,276.9 602.2,276.9 602.2,280.5 608.2,280.5 608.2,276.9 618.9,276.9 626.2,276.9 625.5,273.4 634.9,273.4 634.9,269.8 637.6,269.8 637.6,273.4 643.6,273.4 643.6,269.8 646.3,269.8 646.3,266.4 649.6,266.4 649.6,269.8 652.3,269.8 652.3,273.4 669.0,273.4 673.0,277.1 727.9,277.1 727.9,374.8 259.7,372.1 259.7,362.1 228.9,362.1 183.4,362.1 183.4,372.1 45.9,372.1" fill="#C8F0F0"/>
<polygon points="94.4,308.6 99.1,305.2 101.8,301.9 106.5,301.9 106.5,298.3 111.8,298.3 111.1,301.9 116.5,303.2 115.2,305.9 111.1,308.6" fill="#F0F0C8"/>
<polygon points="140.6,304.6 144.6,302.6 151.3,304.6 140.6,305.2" fill="#F0F0C8"/>
<polygon points="158.0,308.6 160.6,302.6 195.4,301.9 195.4,298.1 210.1,298.1 236.2,298.1 238.9,298.1 238.9,305.2 232.9,306.6 230.2,311.9 230.2,317.9 219.5,319.9 206.1,319.9 186.1,318.6 168.7,319.3 172.7,315.9 186.1,315.3 194.1,312.6 190.1,309.9 172.7,310.6" fill="#F0F0C8"/>
<polygon points="45.9,314.9 59.0,315.9 72.3,316.6 83.0,313.9 99.1,313.0 112.5,313.5 125.9,314.3 135.2,317.3 145.9,321.3 152.6,324.6 166.0,326.6 179.4,326.9 192.8,329.3 208.8,333.3 206.1,338.0 208.8,341.4 215.5,345.4 223.5,348.0 238.9,348.0 238.9,362.1 186.1,362.1 182.7,357.4 183.4,353.4 186.1,348.0 184.7,344.0 180.7,341.4 172.7,345.4 45.9,332.0" fill="#78A0F0"/>
<polygon points="99.8,323.7 109.8,322.9 121.8,325.3 129.9,326.6 121.8,330.6 113.8,329.3" fill="#C8F0F0"/>
<polygon points="45.9,317.9 59.0,317.5 69.7,319.3 59.0,321.3 45.9,322.0" fill="#6478F0"/>
<polygon points="85.0,315.7 99.1,315.3 113.2,315.9 112.5,319.3 96.4,319.9 89.7,317.9" fill="#6478F0"/>
<polygon points="228.9,298.5 236.3,298.5 236.3,294.8 238.9,294.8 238.9,298.5 244.9,298.5 244.9,294.8 248.3,294.8 247.6,299.9 242.3,303.9 234.2,306.6 228.9,315.9" fill="#F0F0C8"/>
<polygon points="372.7,301.2 382.8,299.2 396.1,298.5 398.1,301.5 398.1,304.2 372.7,304.2" fill="#F0F0C8"/>
<polygon points="368.0,309.9 428.9,309.9 428.9,316.6 416.2,317.3 402.8,316.6 386.8,317.3 374.7,315.3" fill="#F0F0C8"/>
<polygon points="256.3,337.3 257.7,332.0 261.0,326.6 269.0,321.3 270.4,316.6 275.7,311.9 289.1,310.6 303.8,309.9 314.5,308.6 311.8,305.2 303.8,303.9 301.1,301.2 309.2,300.6 317.2,297.2 329.2,297.2 342.6,299.9 346.6,305.2 342.6,310.6 343.9,315.9 353.3,317.9 360.0,318.6 376.1,320.6 396.1,319.9 416.2,321.3 428.9,322.6 428.9,345.4 413.5,346.7 402.8,349.4 389.4,349.4 376.1,348.0 362.7,346.7 349.3,345.4 339.9,348.0 322.6,353.4 282.4,358.8 259.7,362.1 228.9,362.1 228.9,349.4 242.3,348.0 255.7,346.0 263.7,344.0 257.7,340.0" fill="#78A0F0"/>
<polygon points="271.7,330.6 274.4,325.3 279.7,319.9 289.1,317.9 309.2,317.5 329.2,319.3 342.6,322.6 360.0,322.9 376.1,322.9 396.1,322.4 416.2,324.0 428.9,325.3 428.9,340.0 364.7,340.0 360.0,340.7 349.3,342.7 338.6,344.7 329.2,345.4 319.9,346.7 317.2,344.0 302.5,342.7 285.1,340.0 275.7,336.0" fill="#6478F0"/>
<polygon points="281.7,332.0 285.1,326.6 293.1,322.6 309.2,322.0 322.6,323.3 335.9,325.3 349.3,326.0 360.0,326.0 389.4,324.6 402.8,326.0 428.9,328.6 428.9,335.3 360.0,335.3 349.3,337.3 335.9,338.7 322.6,339.4 302.5,338.7 289.1,337.3 283.8,334.7" fill="#5050F0"/>
<polygon points="291.8,332.0 295.8,328.0 303.8,326.4 315.9,326.6 325.2,328.6 338.6,330.4 333.2,334.0 322.6,336.0 309.2,336.9 298.5,336.0 293.1,334.0" fill="#1E1EF0"/>
<polygon points="443.0,301.5 499.2,300.6 499.2,304.2 443.0,304.2" fill="#F0F0C8"/>
<polygon points="502.5,294.8 517.2,294.8 517.2,298.5 502.5,298.5" fill="#F0F0C8"/>
<polygon points="418.9,309.5 499.2,309.5 479.1,311.2 465.7,313.9 452.3,316.6 432.3,317.3 418.9,316.6" fill="#F0F0C8"/>
<polygon points="555.4,284.1 564.7,284.1 564.7,286.5 558.0,287.8 555.4,289.2" fill="#F0F0C8"/>
<polygon points="578.8,277.1 602.2,277.1 598.2,279.8 584.8,278.5 578.8,280.5" fill="#F0F0C8"/>
<polygon points="608.2,277.1 618.9,277.1 618.9,283.2 614.2,280.5" fill="#F0F0C8"/>
<polygon points="572.1,333.3 579.4,331.3 590.1,332.7 594.8,336.0 590.1,340.0 579.4,342.0 574.8,338.7" fill="#F0F0C8"/>
<polygon points="418.9,321.3 439.0,322.0 459.0,320.6 472.4,317.9 485.8,315.3 499.2,311.9 509.9,309.9 517.6,308.6 517.6,315.9 512.5,318.6 505.9,322.6 499.2,326.6 493.8,330.6 488.5,333.3 481.8,336.0 418.9,336.0" fill="#78A0F0"/>
<polygon points="418.9,340.3 472.4,340.3 472.4,345.4 459.0,346.0 432.3,344.0 418.9,342.7" fill="#78A0F0"/>
<polygon points="418.9,324.0 439.0,324.6 459.0,322.6 472.4,320.6 485.8,317.9 499.2,313.9 512.5,310.6 517.6,309.9 517.6,313.3 509.9,316.6 501.8,321.3 493.8,325.3 485.8,328.6 477.8,331.3 465.7,334.7 418.9,335.7" fill="#6478F0"/>
<polygon points="418.9,326.6 439.0,326.9 459.0,325.3 472.4,324.0 485.8,320.6 499.2,316.6 505.9,314.6 507.2,315.9 499.2,319.9 488.5,324.0 475.1,327.3 459.0,330.6 445.7,332.0 432.3,334.7 418.9,335.3" fill="#5050F0"/>
<polygon points="522.6,306.6 532.6,304.6 546.0,303.2 556.7,300.6 563.4,299.2 570.1,300.6 566.1,303.9 556.7,306.6 546.0,309.2 536.6,311.9 528.6,315.3 522.6,317.3" fill="#78A0F0"/>
<polygon points="522.6,325.0 535.3,325.3 529.9,329.3 525.9,334.7 522.6,332.0" fill="#78A0F0"/>
<polygon points="590.1,294.8 618.9,294.8 618.9,297.9 606.2,296.5 595.5,297.9" fill="#78A0F0"/>
<polygon points="549.3,288.1 555.3,288.1 555.3,284.1 567.4,284.1 562.0,287.2 556.7,289.2 549.3,289.4" fill="#F0F0C8"/>
<polygon points="578.7,277.4 583.4,277.4 586.1,279.8 578.7,280.5" fill="#F0F0C8"/>
<polygon points="608.2,277.4 625.5,277.4 625.5,273.7 634.9,273.7 634.9,270.1 637.6,270.1 637.6,273.7 643.6,273.7 643.6,270.1 646.3,270.1 646.3,266.7 649.6,266.7 649.6,270.1 652.3,270.1 652.3,273.7 669.0,273.7 673.0,277.4 677.1,279.8 690.4,281.8 691.8,283.8 677.1,284.5 663.7,283.8 658.3,281.8 647.6,281.1 636.9,282.5 627.6,283.8 616.9,283.2 612.8,280.5 608.2,280.5" fill="#F0F0C8"/>
<polygon points="695.8,282.5 710.5,281.1 727.9,282.5 727.9,286.5 717.2,285.2 703.8,284.5" fill="#F0F0C8"/>
<polygon points="679.5,313.3 690.4,311.9 701.1,313.3 709.2,317.3 711.8,321.3 709.2,325.3 697.1,328.0 683.8,330.6 663.7,332.0 650.3,332.0 644.3,330.6 657.0,326.6 669.0,325.0 679.5,325.0" fill="#F0F0C8"/>
<polygon points="669.0,320.2 675.0,315.7 675.0,320.2" fill="#F0F0C8"/>
<polygon points="572.0,333.3 576.7,331.7 586.1,332.7 594.8,336.7 590.1,340.0 580.7,342.0 575.4,339.4" fill="#F0F0C8"/>
<polygon points="529.9,305.9 543.3,303.2 554.0,301.9 560.7,299.2 567.4,299.2 570.7,300.6 563.3,305.2 554.0,308.6 540.6,311.2 529.9,314.6" fill="#78A0F0"/>
<polygon points="588.8,294.8 636.9,294.8 632.9,297.9 623.5,297.2 616.9,298.5 607.5,295.9 596.8,297.9" fill="#78A0F0"/>
<polygon points="529.9,318.6 535.2,318.6 532.6,321.3 529.9,322.0" fill="#78A0F0"/>
<polygon points="529.9,326.0 535.2,326.0 529.9,330.0" fill="#78A0F0"/>
<polygon points="669.0,336.7 683.8,336.0 710.5,334.7 727.9,335.3 727.9,338.0 669.0,338.4" fill="#78A0F0"/>
<use href="#mask"/><use href="#coast"/><g fill="none" stroke="#000" stroke-width="5.3" stroke-linejoin="miter"><rect x="362.1" y="306.7" width="158.0" height="30.8"/><rect x="520.1" y="291.9" width="156.8" height="30.6"/></g>
</g></g>
<rect x="819.9" y="466.2" width="681.8" height="317.7" fill="none" stroke="#000" stroke-width="2.5"/>
<line x1="813.4" y1="466.2" x2="819.9" y2="466.2" stroke="#000" stroke-width="2.5"/>
<text class="tk" x="773.2" y="474.8"><tspan textLength="22.9" lengthAdjust="spacingAndGlyphs">20</tspan><tspan dx="0.4" stroke-width="1.5" textLength="12.4" lengthAdjust="spacingAndGlyphs">N</tspan></text>
<line x1="813.4" y1="529.7" x2="819.9" y2="529.7" stroke="#000" stroke-width="2.5"/>
<text class="tk" x="785.5" y="538.3"><tspan dx="0.4" stroke-width="1.5" textLength="23.4" lengthAdjust="spacingAndGlyphs">EQ</tspan></text>
<line x1="813.4" y1="593.3" x2="819.9" y2="593.3" stroke="#000" stroke-width="2.5"/>
<text class="tk" x="773.8" y="601.9"><tspan textLength="22.9" lengthAdjust="spacingAndGlyphs">20</tspan><tspan dx="0.4" stroke-width="1.5" textLength="11.8" lengthAdjust="spacingAndGlyphs">S</tspan></text>
<line x1="813.4" y1="656.8" x2="819.9" y2="656.8" stroke="#000" stroke-width="2.5"/>
<text class="tk" x="773.8" y="665.4"><tspan textLength="22.9" lengthAdjust="spacingAndGlyphs">40</tspan><tspan dx="0.4" stroke-width="1.5" textLength="11.8" lengthAdjust="spacingAndGlyphs">S</tspan></text>
<line x1="813.4" y1="720.4" x2="819.9" y2="720.4" stroke="#000" stroke-width="2.5"/>
<text class="tk" x="773.8" y="729.0"><tspan textLength="22.9" lengthAdjust="spacingAndGlyphs">60</tspan><tspan dx="0.4" stroke-width="1.5" textLength="11.8" lengthAdjust="spacingAndGlyphs">S</tspan></text>
<line x1="813.4" y1="783.9" x2="819.9" y2="783.9" stroke="#000" stroke-width="2.5"/>
<text class="tk" x="773.8" y="792.5"><tspan textLength="22.9" lengthAdjust="spacingAndGlyphs">80</tspan><tspan dx="0.4" stroke-width="1.5" textLength="11.8" lengthAdjust="spacingAndGlyphs">S</tspan></text>
<line x1="819.9" y1="783.9" x2="819.9" y2="791.4" stroke="#000" stroke-width="2.5"/>
<text class="tk" x="797.7" y="809.1"><tspan textLength="34.3" lengthAdjust="spacingAndGlyphs">120</tspan><tspan dx="0.4" stroke-width="1.5" textLength="10.8" lengthAdjust="spacingAndGlyphs">E</tspan></text>
<line x1="898.6" y1="783.9" x2="898.6" y2="791.4" stroke="#000" stroke-width="2.5"/>
<text class="tk" x="876.4" y="809.1"><tspan textLength="34.3" lengthAdjust="spacingAndGlyphs">150</tspan><tspan dx="0.4" stroke-width="1.5" textLength="10.8" lengthAdjust="spacingAndGlyphs">E</tspan></text>
<line x1="977.2" y1="783.9" x2="977.2" y2="791.4" stroke="#000" stroke-width="2.5"/>
<text class="tk" x="960.6" y="809.1"><tspan textLength="34.3" lengthAdjust="spacingAndGlyphs">180</tspan></text>
<line x1="1055.9" y1="783.9" x2="1055.9" y2="791.4" stroke="#000" stroke-width="2.5"/>
<text class="tk" x="1032.9" y="809.1"><tspan textLength="34.3" lengthAdjust="spacingAndGlyphs">150</tspan><tspan dx="0.4" stroke-width="1.5" textLength="12.4" lengthAdjust="spacingAndGlyphs">W</tspan></text>
<line x1="1134.5" y1="783.9" x2="1134.5" y2="791.4" stroke="#000" stroke-width="2.5"/>
<text class="tk" x="1111.5" y="809.1"><tspan textLength="34.3" lengthAdjust="spacingAndGlyphs">120</tspan><tspan dx="0.4" stroke-width="1.5" textLength="12.4" lengthAdjust="spacingAndGlyphs">W</tspan></text>
<line x1="1213.2" y1="783.9" x2="1213.2" y2="791.4" stroke="#000" stroke-width="2.5"/>
<text class="tk" x="1195.9" y="809.1"><tspan textLength="22.9" lengthAdjust="spacingAndGlyphs">90</tspan><tspan dx="0.4" stroke-width="1.5" textLength="12.4" lengthAdjust="spacingAndGlyphs">W</tspan></text>
<line x1="1291.8" y1="783.9" x2="1291.8" y2="791.4" stroke="#000" stroke-width="2.5"/>
<text class="tk" x="1274.6" y="809.1"><tspan textLength="22.9" lengthAdjust="spacingAndGlyphs">60</tspan><tspan dx="0.4" stroke-width="1.5" textLength="12.4" lengthAdjust="spacingAndGlyphs">W</tspan></text>
<line x1="1370.5" y1="783.9" x2="1370.5" y2="791.4" stroke="#000" stroke-width="2.5"/>
<text class="tk" x="1353.2" y="809.1"><tspan textLength="22.9" lengthAdjust="spacingAndGlyphs">30</tspan><tspan dx="0.4" stroke-width="1.5" textLength="12.4" lengthAdjust="spacingAndGlyphs">W</tspan></text>
<line x1="1449.1" y1="783.9" x2="1449.1" y2="791.4" stroke="#000" stroke-width="2.5"/>
<text class="tk" x="1444.0" y="809.1"><tspan textLength="11.4" lengthAdjust="spacingAndGlyphs">0</tspan></text>
<polygon points="129.4,825.6 77.4,835.2 129.4,844.9" fill="#EE0000" stroke="#000" stroke-width="1.1"/>
<polygon points="644.9,825.6 697.4,835.2 644.9,844.9" fill="#0000FA" stroke="#000" stroke-width="1.1"/>
<rect x="129.4" y="825.6" width="51.55" height="19.3" fill="#F0283C" stroke="#000" stroke-width="1.1"/>
<rect x="180.9" y="825.6" width="51.55" height="19.3" fill="#F05050" stroke="#000" stroke-width="1.1"/>
<rect x="232.5" y="825.6" width="51.55" height="19.3" fill="#F07864" stroke="#000" stroke-width="1.1"/>
<rect x="284.0" y="825.6" width="51.55" height="19.3" fill="#F0A078" stroke="#000" stroke-width="1.1"/>
<rect x="335.6" y="825.6" width="51.55" height="19.3" fill="#F0F0C8" stroke="#000" stroke-width="1.1"/>
<rect x="387.1" y="825.6" width="51.55" height="19.3" fill="#C8F0F0" stroke="#000" stroke-width="1.1"/>
<rect x="438.7" y="825.6" width="51.55" height="19.3" fill="#78A0F0" stroke="#000" stroke-width="1.1"/>
<rect x="490.2" y="825.6" width="51.55" height="19.3" fill="#6478F0" stroke="#000" stroke-width="1.1"/>
<rect x="541.8" y="825.6" width="51.55" height="19.3" fill="#5050F0" stroke="#000" stroke-width="1.1"/>
<rect x="593.4" y="825.6" width="51.55" height="19.3" fill="#1E1EF0" stroke="#000" stroke-width="1.1"/>
<text class="cb" x="130.5" y="862.2" text-anchor="middle" textLength="35.5" lengthAdjust="spacingAndGlyphs">−10</text>
<text class="cb" x="182.1" y="862.2" text-anchor="middle" textLength="25" lengthAdjust="spacingAndGlyphs">−8</text>
<text class="cb" x="233.6" y="862.2" text-anchor="middle" textLength="25" lengthAdjust="spacingAndGlyphs">−6</text>
<text class="cb" x="285.1" y="862.2" text-anchor="middle" textLength="25" lengthAdjust="spacingAndGlyphs">−4</text>
<text class="cb" x="336.7" y="862.2" text-anchor="middle" textLength="25" lengthAdjust="spacingAndGlyphs">−2</text>
<text class="cb" x="388.2" y="862.2" text-anchor="middle" textLength="10.2" lengthAdjust="spacingAndGlyphs">0</text>
<text class="cb" x="439.8" y="862.2" text-anchor="middle" textLength="10.2" lengthAdjust="spacingAndGlyphs">2</text>
<text class="cb" x="491.4" y="862.2" text-anchor="middle" textLength="10.2" lengthAdjust="spacingAndGlyphs">4</text>
<text class="cb" x="542.9" y="862.2" text-anchor="middle" textLength="10.2" lengthAdjust="spacingAndGlyphs">6</text>
<text class="cb" x="594.4" y="862.2" text-anchor="middle" textLength="10.2" lengthAdjust="spacingAndGlyphs">8</text>
<text class="cb" x="646.0" y="862.2" text-anchor="middle" textLength="20.4" lengthAdjust="spacingAndGlyphs">10</text>
<text x="703.9" y="866.2" text-anchor="middle" font-size="33.5" font-family="'DejaVu Sans', 'Liberation Sans', sans-serif" textLength="30" lengthAdjust="spacingAndGlyphs">%</text>
<text x="407.9" y="895.6" text-anchor="middle" font-size="39.6" textLength="378.6" lengthAdjust="spacingAndGlyphs">Sea ice concentration</text>
<polygon points="902.0,825.6 850.0,835.2 902.0,844.9" fill="#EE0000" stroke="#000" stroke-width="1.1"/>
<polygon points="1417.5,825.6 1470.0,835.2 1417.5,844.9" fill="#0000FA" stroke="#000" stroke-width="1.1"/>
<rect x="902.0" y="825.6" width="51.55" height="19.3" fill="#F0283C" stroke="#000" stroke-width="1.1"/>
<rect x="953.5" y="825.6" width="51.55" height="19.3" fill="#F05050" stroke="#000" stroke-width="1.1"/>
<rect x="1005.1" y="825.6" width="51.55" height="19.3" fill="#F07864" stroke="#000" stroke-width="1.1"/>
<rect x="1056.7" y="825.6" width="51.55" height="19.3" fill="#F0A078" stroke="#000" stroke-width="1.1"/>
<rect x="1108.2" y="825.6" width="51.55" height="19.3" fill="#F0F0C8" stroke="#000" stroke-width="1.1"/>
<rect x="1159.8" y="825.6" width="51.55" height="19.3" fill="#C8F0F0" stroke="#000" stroke-width="1.1"/>
<rect x="1211.3" y="825.6" width="51.55" height="19.3" fill="#78A0F0" stroke="#000" stroke-width="1.1"/>
<rect x="1262.8" y="825.6" width="51.55" height="19.3" fill="#6478F0" stroke="#000" stroke-width="1.1"/>
<rect x="1314.4" y="825.6" width="51.55" height="19.3" fill="#5050F0" stroke="#000" stroke-width="1.1"/>
<rect x="1366.0" y="825.6" width="51.55" height="19.3" fill="#1E1EF0" stroke="#000" stroke-width="1.1"/>
<text class="cb" x="903.1" y="862.2" text-anchor="middle" textLength="35.5" lengthAdjust="spacingAndGlyphs">−10</text>
<text class="cb" x="954.6" y="862.2" text-anchor="middle" textLength="25" lengthAdjust="spacingAndGlyphs">−8</text>
<text class="cb" x="1006.2" y="862.2" text-anchor="middle" textLength="25" lengthAdjust="spacingAndGlyphs">−6</text>
<text class="cb" x="1057.8" y="862.2" text-anchor="middle" textLength="25" lengthAdjust="spacingAndGlyphs">−4</text>
<text class="cb" x="1109.3" y="862.2" text-anchor="middle" textLength="25" lengthAdjust="spacingAndGlyphs">−2</text>
<text class="cb" x="1160.8" y="862.2" text-anchor="middle" textLength="10.2" lengthAdjust="spacingAndGlyphs">0</text>
<text class="cb" x="1212.4" y="862.2" text-anchor="middle" textLength="10.2" lengthAdjust="spacingAndGlyphs">2</text>
<text class="cb" x="1263.9" y="862.2" text-anchor="middle" textLength="10.2" lengthAdjust="spacingAndGlyphs">4</text>
<text class="cb" x="1315.5" y="862.2" text-anchor="middle" textLength="10.2" lengthAdjust="spacingAndGlyphs">6</text>
<text class="cb" x="1367.0" y="862.2" text-anchor="middle" textLength="10.2" lengthAdjust="spacingAndGlyphs">8</text>
<text class="cb" x="1418.6" y="862.2" text-anchor="middle" textLength="20.4" lengthAdjust="spacingAndGlyphs">10</text>
<text x="1480.3" y="866.2" text-anchor="middle" font-size="33.5" font-family="'DejaVu Sans', 'Liberation Sans', sans-serif" textLength="30" lengthAdjust="spacingAndGlyphs">%</text>
<text x="1184.3" y="895.6" text-anchor="middle" font-size="39.6" textLength="378.6" lengthAdjust="spacingAndGlyphs">Sea ice concentration</text>
<text x="140.0" y="33.4" font-size="46.8" textLength="493.6" lengthAdjust="spacingAndGlyphs" stroke="#000" stroke-width="0.5">(a) SIC 2008-2017 (Obs)</text>
<text x="912.1" y="33.4" font-size="46.8" textLength="494.3" lengthAdjust="spacingAndGlyphs" stroke="#000" stroke-width="0.5">(b) SIC 2008-2017 (CTL)</text>
<text x="146.7" y="446.3" font-size="46.8" textLength="483.1" lengthAdjust="spacingAndGlyphs" stroke="#000" stroke-width="0.5">(c) SIC 2008-2017 (SIR)</text>
<text x="889.0" y="446.3" font-size="46.8" textLength="552.5" lengthAdjust="spacingAndGlyphs" stroke="#000" stroke-width="0.5">(d) SIC 2008-2017 (3DVAR)</text>
</svg></body></html>
